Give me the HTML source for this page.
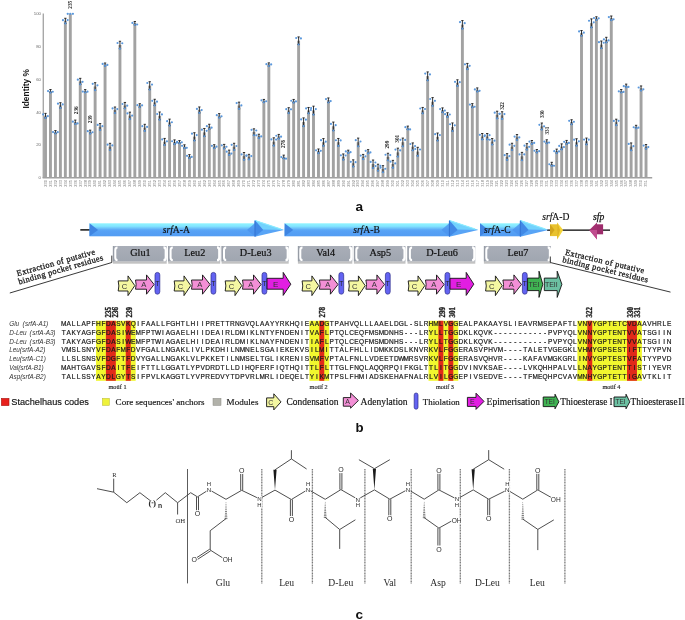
<!DOCTYPE html>
<html><head><meta charset="utf-8"><title>fig</title>
<style>html,body{margin:0;padding:0;background:#fff;overflow:hidden}svg{display:block;will-change:transform}</style>
</head><body>
<svg width="685" height="620" viewBox="0 0 685 620">
<defs><linearGradient id="gb" x1="0" y1="223.3" x2="0" y2="236.3" gradientUnits="userSpaceOnUse"><stop offset="0" stop-color="#90f4ff"/><stop offset="0.22" stop-color="#84e6ff"/><stop offset="0.5" stop-color="#5ca8f6"/><stop offset="0.6" stop-color="#56a1f5"/><stop offset="1" stop-color="#529cf3"/></linearGradient><linearGradient id="gbox" x1="0" y1="0" x2="0" y2="1"><stop offset="0" stop-color="#a9aeb8"/><stop offset="1" stop-color="#a0a6b0"/></linearGradient></defs>
<g id="chart">
<line x1="43.3" y1="13.6" x2="43.3" y2="178" stroke="#a8a8a8" stroke-width="1.4"/>
<line x1="42.6" y1="177.8" x2="652.2" y2="177.8" stroke="#a0a0a0" stroke-width="1.6"/>
<text transform="translate(41,15.25) scale(0.5)" font-family='"Liberation Sans", sans-serif' font-size="8.6" fill="#666" text-anchor="end">100</text>
<text transform="translate(41,48.05) scale(0.5)" font-family='"Liberation Sans", sans-serif' font-size="8.6" fill="#666" text-anchor="end">80</text>
<text transform="translate(41,80.85) scale(0.5)" font-family='"Liberation Sans", sans-serif' font-size="8.6" fill="#666" text-anchor="end">60</text>
<text transform="translate(41,113.65) scale(0.5)" font-family='"Liberation Sans", sans-serif' font-size="8.6" fill="#666" text-anchor="end">40</text>
<text transform="translate(41,146.45) scale(0.5)" font-family='"Liberation Sans", sans-serif' font-size="8.6" fill="#666" text-anchor="end">20</text>
<text transform="translate(41,179.25) scale(0.5)" font-family='"Liberation Sans", sans-serif' font-size="8.6" fill="#666" text-anchor="end">0</text>
<text transform="translate(28.9,88.8) rotate(-90)" font-family='"Liberation Sans", sans-serif' font-weight="bold" font-size="8.4" fill="#111" text-anchor="middle">Identity %</text>
<g fill="#a2a2a2"><rect x="44.05" y="115.64" width="2.9" height="62.16"/><rect x="49.01" y="91.04" width="2.9" height="86.76"/><rect x="53.98" y="132.04" width="2.9" height="45.76"/><rect x="58.94" y="105.31" width="2.9" height="72.49"/><rect x="63.90" y="20.85" width="2.9" height="156.95"/><rect x="68.86" y="13.80" width="2.9" height="164.00"/><rect x="73.83" y="122.04" width="2.9" height="55.76"/><rect x="78.79" y="81.37" width="2.9" height="96.43"/><rect x="83.75" y="91.04" width="2.9" height="86.76"/><rect x="88.72" y="131.88" width="2.9" height="45.92"/><rect x="93.68" y="86.45" width="2.9" height="91.35"/><rect x="98.64" y="126.80" width="2.9" height="51.00"/><rect x="103.61" y="64.48" width="2.9" height="113.32"/><rect x="108.57" y="146.64" width="2.9" height="31.16"/><rect x="113.53" y="110.07" width="2.9" height="67.73"/><rect x="118.50" y="44.96" width="2.9" height="132.84"/><rect x="123.46" y="105.48" width="2.9" height="72.32"/><rect x="128.42" y="115.64" width="2.9" height="62.16"/><rect x="133.38" y="23.15" width="2.9" height="154.65"/><rect x="138.35" y="105.48" width="2.9" height="72.32"/><rect x="143.31" y="127.62" width="2.9" height="50.18"/><rect x="148.27" y="85.63" width="2.9" height="92.17"/><rect x="153.24" y="102.36" width="2.9" height="75.44"/><rect x="158.20" y="115.81" width="2.9" height="61.99"/><rect x="163.16" y="141.72" width="2.9" height="36.08"/><rect x="168.12" y="122.37" width="2.9" height="55.43"/><rect x="173.09" y="142.05" width="2.9" height="35.75"/><rect x="178.05" y="141.88" width="2.9" height="35.92"/><rect x="183.01" y="146.48" width="2.9" height="31.32"/><rect x="187.98" y="156.32" width="2.9" height="21.48"/><rect x="192.94" y="136.64" width="2.9" height="41.16"/><rect x="197.90" y="109.90" width="2.9" height="67.90"/><rect x="202.87" y="132.37" width="2.9" height="45.43"/><rect x="207.83" y="126.63" width="2.9" height="51.17"/><rect x="212.79" y="146.48" width="2.9" height="31.32"/><rect x="217.76" y="115.64" width="2.9" height="62.16"/><rect x="222.72" y="146.48" width="2.9" height="31.32"/><rect x="227.68" y="152.54" width="2.9" height="25.26"/><rect x="232.64" y="146.64" width="2.9" height="31.16"/><rect x="237.61" y="105.48" width="2.9" height="72.32"/><rect x="242.57" y="156.15" width="2.9" height="21.65"/><rect x="247.53" y="156.81" width="2.9" height="20.99"/><rect x="252.50" y="132.04" width="2.9" height="45.76"/><rect x="257.46" y="136.14" width="2.9" height="41.66"/><rect x="262.42" y="100.88" width="2.9" height="76.92"/><rect x="267.39" y="64.48" width="2.9" height="113.32"/><rect x="272.35" y="141.72" width="2.9" height="36.08"/><rect x="277.31" y="136.47" width="2.9" height="41.33"/><rect x="282.27" y="156.81" width="2.9" height="20.99"/><rect x="287.24" y="110.40" width="2.9" height="67.40"/><rect x="292.20" y="101.05" width="2.9" height="76.75"/><rect x="297.16" y="40.70" width="2.9" height="137.10"/><rect x="302.13" y="122.04" width="2.9" height="55.76"/><rect x="307.09" y="110.40" width="2.9" height="67.40"/><rect x="312.05" y="110.40" width="2.9" height="67.40"/><rect x="317.02" y="151.07" width="2.9" height="26.73"/><rect x="321.98" y="142.21" width="2.9" height="35.59"/><rect x="326.94" y="100.23" width="2.9" height="77.57"/><rect x="331.90" y="126.30" width="2.9" height="51.50"/><rect x="336.87" y="142.21" width="2.9" height="35.59"/><rect x="341.83" y="156.81" width="2.9" height="20.99"/><rect x="346.79" y="151.56" width="2.9" height="26.24"/><rect x="351.76" y="163.20" width="2.9" height="14.60"/><rect x="356.72" y="142.21" width="2.9" height="35.59"/><rect x="361.68" y="156.81" width="2.9" height="20.99"/><rect x="366.65" y="151.56" width="2.9" height="26.24"/><rect x="371.61" y="164.02" width="2.9" height="13.78"/><rect x="376.57" y="167.47" width="2.9" height="10.33"/><rect x="381.53" y="168.94" width="2.9" height="8.86"/><rect x="386.50" y="156.81" width="2.9" height="20.99"/><rect x="391.46" y="164.02" width="2.9" height="13.78"/><rect x="396.42" y="152.38" width="2.9" height="25.42"/><rect x="401.39" y="142.21" width="2.9" height="35.59"/><rect x="406.35" y="127.78" width="2.9" height="50.02"/><rect x="411.31" y="146.64" width="2.9" height="31.16"/><rect x="416.28" y="151.56" width="2.9" height="26.24"/><rect x="421.24" y="110.40" width="2.9" height="67.40"/><rect x="426.20" y="76.12" width="2.9" height="101.68"/><rect x="431.16" y="101.70" width="2.9" height="76.10"/><rect x="436.13" y="136.80" width="2.9" height="41.00"/><rect x="441.09" y="110.07" width="2.9" height="67.73"/><rect x="446.05" y="114.82" width="2.9" height="62.98"/><rect x="451.02" y="126.96" width="2.9" height="50.84"/><rect x="455.98" y="82.84" width="2.9" height="94.96"/><rect x="460.94" y="24.62" width="2.9" height="153.18"/><rect x="465.91" y="66.28" width="2.9" height="111.52"/><rect x="470.87" y="105.48" width="2.9" height="72.32"/><rect x="475.83" y="89.73" width="2.9" height="88.07"/><rect x="480.79" y="136.47" width="2.9" height="41.33"/><rect x="485.76" y="136.47" width="2.9" height="41.33"/><rect x="490.72" y="141.56" width="2.9" height="36.24"/><rect x="495.68" y="114.82" width="2.9" height="62.98"/><rect x="500.65" y="115.32" width="2.9" height="62.48"/><rect x="505.61" y="156.81" width="2.9" height="20.99"/><rect x="510.57" y="146.64" width="2.9" height="31.16"/><rect x="515.53" y="137.29" width="2.9" height="40.51"/><rect x="520.50" y="156.32" width="2.9" height="21.48"/><rect x="525.46" y="146.64" width="2.9" height="31.16"/><rect x="530.42" y="142.21" width="2.9" height="35.59"/><rect x="535.39" y="151.07" width="2.9" height="26.73"/><rect x="540.35" y="126.30" width="2.9" height="51.50"/><rect x="545.31" y="141.56" width="2.9" height="36.24"/><rect x="550.28" y="164.02" width="2.9" height="13.78"/><rect x="555.24" y="151.07" width="2.9" height="26.73"/><rect x="560.20" y="146.64" width="2.9" height="31.16"/><rect x="565.16" y="142.21" width="2.9" height="35.59"/><rect x="570.13" y="122.04" width="2.9" height="55.76"/><rect x="575.09" y="142.21" width="2.9" height="35.59"/><rect x="580.05" y="33.15" width="2.9" height="144.65"/><rect x="585.02" y="141.23" width="2.9" height="36.57"/><rect x="589.98" y="23.15" width="2.9" height="154.65"/><rect x="594.94" y="18.39" width="2.9" height="159.41"/><rect x="599.91" y="44.63" width="2.9" height="133.17"/><rect x="604.87" y="39.88" width="2.9" height="137.92"/><rect x="609.83" y="18.06" width="2.9" height="159.74"/><rect x="614.79" y="122.20" width="2.9" height="55.60"/><rect x="619.76" y="91.04" width="2.9" height="86.76"/><rect x="624.72" y="85.63" width="2.9" height="92.17"/><rect x="629.68" y="146.64" width="2.9" height="31.16"/><rect x="634.65" y="126.80" width="2.9" height="51.00"/><rect x="639.61" y="88.26" width="2.9" height="89.54"/><rect x="644.57" y="146.64" width="2.9" height="31.16"/></g>
<path d="M45.50 113.37V117.92M44.35 113.37h2.3M44.35 117.92h2.3M50.46 89.53V92.56M49.31 89.53h2.3M49.31 92.56h2.3M55.43 130.57V133.52M54.28 130.57h2.3M54.28 133.52h2.3M60.39 102.71V107.91M59.24 102.71h2.3M59.24 107.91h2.3M65.35 18.28V23.43M64.20 18.28h2.3M64.20 23.43h2.3M75.28 120.07V124.01M74.13 120.07h2.3M74.13 124.01h2.3M80.24 78.34V84.40M79.09 78.34h2.3M79.09 84.40h2.3M85.20 89.60V92.48M84.05 89.60h2.3M84.05 92.48h2.3M90.17 130.15V133.61M89.02 130.15h2.3M89.02 133.61h2.3M95.13 82.70V90.20M93.98 82.70h2.3M93.98 90.20h2.3M100.09 123.58V130.01M98.94 123.58h2.3M98.94 130.01h2.3M105.06 62.99V65.96M103.91 62.99h2.3M103.91 65.96h2.3M110.02 143.30V149.98M108.87 143.30h2.3M108.87 149.98h2.3M114.98 107.01V113.12M113.83 107.01h2.3M113.83 113.12h2.3M119.95 41.28V48.64M118.80 41.28h2.3M118.80 48.64h2.3M124.91 102.45V108.50M123.76 102.45h2.3M123.76 108.50h2.3M129.87 112.16V119.13M128.72 112.16h2.3M128.72 119.13h2.3M134.83 21.49V24.80M133.68 21.49h2.3M133.68 24.80h2.3M139.80 103.72V107.23M138.65 103.72h2.3M138.65 107.23h2.3M144.76 124.31V130.92M143.61 124.31h2.3M143.61 130.92h2.3M149.72 81.71V89.56M148.57 81.71h2.3M148.57 89.56h2.3M154.69 99.28V105.44M153.54 99.28h2.3M153.54 105.44h2.3M159.65 111.99V119.63M158.50 111.99h2.3M158.50 119.63h2.3M164.61 138.43V145.01M163.46 138.43h2.3M163.46 145.01h2.3M169.57 119.13V125.61M168.42 119.13h2.3M168.42 125.61h2.3M174.54 139.89V144.20M173.39 139.89h2.3M173.39 144.20h2.3M179.50 140.52V143.25M178.35 140.52h2.3M178.35 143.25h2.3M184.46 144.82V148.13M183.31 144.82h2.3M183.31 148.13h2.3M189.43 154.63V158.00M188.28 154.63h2.3M188.28 158.00h2.3M194.39 132.72V140.55M193.24 132.72h2.3M193.24 140.55h2.3M199.35 106.96V112.85M198.20 106.96h2.3M198.20 112.85h2.3M204.32 128.48V136.26M203.17 128.48h2.3M203.17 136.26h2.3M209.28 124.26V129.01M208.13 124.26h2.3M208.13 129.01h2.3M214.24 144.72V148.23M213.09 144.72h2.3M213.09 148.23h2.3M219.21 113.64V117.64M218.06 113.64h2.3M218.06 117.64h2.3M224.17 144.39V148.56M223.02 144.39h2.3M223.02 148.56h2.3M229.13 150.14V154.95M227.98 150.14h2.3M227.98 154.95h2.3M234.09 143.27V150.01M232.94 143.27h2.3M232.94 150.01h2.3M239.06 102.15V108.80M237.91 102.15h2.3M237.91 108.80h2.3M244.02 152.51V159.79M242.87 152.51h2.3M242.87 159.79h2.3M248.98 154.33V159.29M247.83 154.33h2.3M247.83 159.29h2.3M253.95 128.84V135.25M252.80 128.84h2.3M252.80 135.25h2.3M258.91 134.22V138.07M257.76 134.22h2.3M257.76 138.07h2.3M263.87 99.43V102.34M262.72 99.43h2.3M262.72 102.34h2.3M268.84 62.87V66.08M267.69 62.87h2.3M267.69 66.08h2.3M273.80 137.80V145.64M272.65 137.80h2.3M272.65 145.64h2.3M278.76 134.42V138.53M277.61 134.42h2.3M277.61 138.53h2.3M283.72 155.14V158.48M282.57 155.14h2.3M282.57 158.48h2.3M288.69 107.70V113.09M287.54 107.70h2.3M287.54 113.09h2.3M293.65 99.44V102.65M292.50 99.44h2.3M292.50 102.65h2.3M298.61 36.91V44.48M297.46 36.91h2.3M297.46 44.48h2.3M303.58 117.89V126.19M302.43 117.89h2.3M302.43 126.19h2.3M308.54 107.47V113.33M307.39 107.47h2.3M307.39 113.33h2.3M313.50 106.16V114.63M312.35 106.16h2.3M312.35 114.63h2.3M318.47 148.98V153.15M317.32 148.98h2.3M317.32 153.15h2.3M323.43 138.60V145.83M322.28 138.60h2.3M322.28 145.83h2.3M328.39 97.94V102.52M327.24 97.94h2.3M327.24 102.52h2.3M333.35 122.05V130.56M332.20 122.05h2.3M332.20 130.56h2.3M338.32 138.46V145.97M337.17 138.46h2.3M337.17 145.97h2.3M343.28 153.96V159.66M342.13 153.96h2.3M342.13 159.66h2.3M348.24 150.18V152.94M347.09 150.18h2.3M347.09 152.94h2.3M353.21 159.83V166.58M352.06 159.83h2.3M352.06 166.58h2.3M358.17 138.10V146.32M357.02 138.10h2.3M357.02 146.32h2.3M363.13 154.41V159.20M361.98 154.41h2.3M361.98 159.20h2.3M368.10 149.67V153.45M366.95 149.67h2.3M366.95 153.45h2.3M373.06 160.02V168.02M371.91 160.02h2.3M371.91 168.02h2.3M378.02 164.21V170.73M376.87 164.21h2.3M376.87 170.73h2.3M382.98 165.66V172.23M381.83 165.66h2.3M381.83 172.23h2.3M387.95 153.26V160.36M386.80 153.26h2.3M386.80 160.36h2.3M392.91 160.36V167.69M391.76 160.36h2.3M391.76 167.69h2.3M397.87 148.17V156.59M396.72 148.17h2.3M396.72 156.59h2.3M402.84 138.07V146.35M401.69 138.07h2.3M401.69 146.35h2.3M407.80 126.10V129.46M406.65 126.10h2.3M406.65 129.46h2.3M412.76 142.92V150.36M411.61 142.92h2.3M411.61 150.36h2.3M417.73 147.32V155.80M416.58 147.32h2.3M416.58 155.80h2.3M422.69 107.45V113.34M421.54 107.45h2.3M421.54 113.34h2.3M427.65 71.91V80.33M426.50 71.91h2.3M426.50 80.33h2.3M432.61 97.60V105.80M431.46 97.60h2.3M431.46 105.80h2.3M437.58 133.02V140.58M436.43 133.02h2.3M436.43 140.58h2.3M442.54 107.89V112.25M441.39 107.89h2.3M441.39 112.25h2.3M447.50 112.75V116.90M446.35 112.75h2.3M446.35 116.90h2.3M452.47 122.93V130.99M451.32 122.93h2.3M451.32 130.99h2.3M457.43 79.79V85.89M456.28 79.79h2.3M456.28 85.89h2.3M462.39 20.57V28.68M461.24 20.57h2.3M461.24 28.68h2.3M467.36 63.41V69.15M466.21 63.41h2.3M466.21 69.15h2.3M472.32 103.63V107.33M471.17 103.63h2.3M471.17 107.33h2.3M477.28 87.91V91.55M476.13 87.91h2.3M476.13 91.55h2.3M482.24 133.50V139.44M481.09 133.50h2.3M481.09 139.44h2.3M487.21 133.51V139.44M486.06 133.51h2.3M486.06 139.44h2.3M492.17 138.58V144.54M491.02 138.58h2.3M491.02 144.54h2.3M497.13 111.21V118.44M495.98 111.21h2.3M495.98 118.44h2.3M502.10 111.74V118.90M500.95 111.74h2.3M500.95 118.90h2.3M507.06 153.67V159.95M505.91 153.67h2.3M505.91 159.95h2.3M512.02 143.26V150.02M510.87 143.26h2.3M510.87 150.02h2.3M516.99 134.56V140.03M515.84 134.56h2.3M515.84 140.03h2.3M521.95 152.39V160.25M520.80 152.39h2.3M520.80 160.25h2.3M526.91 143.66V149.62M525.76 143.66h2.3M525.76 149.62h2.3M531.87 140.50V143.92M530.72 140.50h2.3M530.72 143.92h2.3M536.84 149.55V152.59M535.69 149.55h2.3M535.69 152.59h2.3M541.80 123.00V129.61M540.65 123.00h2.3M540.65 129.61h2.3M546.76 139.79V143.32M545.61 139.79h2.3M545.61 143.32h2.3M551.73 162.30V165.75M550.58 162.30h2.3M550.58 165.75h2.3M556.69 149.11V153.03M555.54 149.11h2.3M555.54 153.03h2.3M561.65 143.88V149.40M560.50 143.88h2.3M560.50 149.40h2.3M566.62 140.43V144.00M565.47 140.43h2.3M565.47 144.00h2.3M571.58 119.72V124.36M570.43 119.72h2.3M570.43 124.36h2.3M576.54 138.75V145.68M575.39 138.75h2.3M575.39 145.68h2.3M581.50 30.53V35.77M580.35 30.53h2.3M580.35 35.77h2.3M586.47 138.06V144.40M585.32 138.06h2.3M585.32 144.40h2.3M591.43 18.89V27.40M590.28 18.89h2.3M590.28 27.40h2.3M596.39 16.78V20.01M595.24 16.78h2.3M595.24 20.01h2.3M601.36 41.00V48.27M600.21 41.00h2.3M600.21 48.27h2.3M606.32 37.31V42.44M605.17 37.31h2.3M605.17 42.44h2.3M611.28 15.99V20.14M610.13 15.99h2.3M610.13 20.14h2.3M616.25 119.19V125.22M615.10 119.19h2.3M615.10 125.22h2.3M621.21 89.57V92.52M620.06 89.57h2.3M620.06 92.52h2.3M626.17 84.11V87.15M625.02 84.11h2.3M625.02 87.15h2.3M631.13 142.94V150.34M629.98 142.94h2.3M629.98 150.34h2.3M636.10 125.30V128.30M634.95 125.30h2.3M634.95 128.30h2.3M641.06 85.94V90.57M639.91 85.94h2.3M639.91 90.57h2.3M646.02 144.54V148.74M644.87 144.54h2.3M644.87 148.74h2.3" stroke="#111" stroke-width="0.85" fill="none"/>
<g fill="#5b98dc"><circle cx="43.10" cy="114.45" r="1.1"/><circle cx="47.80" cy="116.17" r="1.1"/><circle cx="45.50" cy="117.92" r="1.1"/><circle cx="48.06" cy="91.07" r="1.1"/><circle cx="52.76" cy="91.76" r="1.1"/><circle cx="50.46" cy="92.56" r="1.1"/><circle cx="53.03" cy="132.08" r="1.1"/><circle cx="57.73" cy="132.14" r="1.1"/><circle cx="55.43" cy="133.52" r="1.1"/><circle cx="57.99" cy="103.69" r="1.1"/><circle cx="62.69" cy="104.39" r="1.1"/><circle cx="60.39" cy="107.91" r="1.1"/><circle cx="62.95" cy="20.17" r="1.1"/><circle cx="67.65" cy="20.03" r="1.1"/><circle cx="65.35" cy="23.43" r="1.1"/><circle cx="67.72" cy="13.80" r="1.1"/><circle cx="70.31" cy="13.80" r="1.1"/><circle cx="72.91" cy="13.80" r="1.1"/><circle cx="72.88" cy="121.72" r="1.1"/><circle cx="77.58" cy="123.47" r="1.1"/><circle cx="75.28" cy="124.01" r="1.1"/><circle cx="77.84" cy="79.71" r="1.1"/><circle cx="82.54" cy="81.79" r="1.1"/><circle cx="80.24" cy="84.40" r="1.1"/><circle cx="82.80" cy="91.53" r="1.1"/><circle cx="87.50" cy="91.68" r="1.1"/><circle cx="85.20" cy="92.48" r="1.1"/><circle cx="87.77" cy="131.19" r="1.1"/><circle cx="92.47" cy="132.26" r="1.1"/><circle cx="90.17" cy="133.61" r="1.1"/><circle cx="92.73" cy="83.82" r="1.1"/><circle cx="97.43" cy="85.37" r="1.1"/><circle cx="95.13" cy="90.20" r="1.1"/><circle cx="97.69" cy="124.93" r="1.1"/><circle cx="102.39" cy="126.17" r="1.1"/><circle cx="100.09" cy="130.01" r="1.1"/><circle cx="102.66" cy="63.96" r="1.1"/><circle cx="107.36" cy="64.90" r="1.1"/><circle cx="105.06" cy="65.96" r="1.1"/><circle cx="107.62" cy="144.71" r="1.1"/><circle cx="112.32" cy="145.43" r="1.1"/><circle cx="110.02" cy="149.98" r="1.1"/><circle cx="112.58" cy="108.46" r="1.1"/><circle cx="117.28" cy="109.11" r="1.1"/><circle cx="114.98" cy="113.12" r="1.1"/><circle cx="117.55" cy="43.02" r="1.1"/><circle cx="122.25" cy="43.27" r="1.1"/><circle cx="119.95" cy="48.64" r="1.1"/><circle cx="122.51" cy="103.98" r="1.1"/><circle cx="127.21" cy="105.70" r="1.1"/><circle cx="124.91" cy="108.50" r="1.1"/><circle cx="127.47" cy="113.40" r="1.1"/><circle cx="132.17" cy="115.62" r="1.1"/><circle cx="129.87" cy="119.13" r="1.1"/><circle cx="132.43" cy="22.90" r="1.1"/><circle cx="137.13" cy="24.51" r="1.1"/><circle cx="134.83" cy="24.80" r="1.1"/><circle cx="137.40" cy="105.21" r="1.1"/><circle cx="142.10" cy="105.30" r="1.1"/><circle cx="139.80" cy="107.23" r="1.1"/><circle cx="142.36" cy="126.13" r="1.1"/><circle cx="147.06" cy="126.96" r="1.1"/><circle cx="144.76" cy="130.92" r="1.1"/><circle cx="147.32" cy="82.98" r="1.1"/><circle cx="152.02" cy="84.60" r="1.1"/><circle cx="149.72" cy="89.56" r="1.1"/><circle cx="152.29" cy="100.87" r="1.1"/><circle cx="156.99" cy="101.69" r="1.1"/><circle cx="154.69" cy="105.44" r="1.1"/><circle cx="157.25" cy="114.02" r="1.1"/><circle cx="161.95" cy="114.44" r="1.1"/><circle cx="159.65" cy="119.63" r="1.1"/><circle cx="162.21" cy="139.40" r="1.1"/><circle cx="166.91" cy="141.33" r="1.1"/><circle cx="164.61" cy="145.01" r="1.1"/><circle cx="167.17" cy="121.22" r="1.1"/><circle cx="171.88" cy="122.27" r="1.1"/><circle cx="169.57" cy="125.61" r="1.1"/><circle cx="172.14" cy="141.26" r="1.1"/><circle cx="176.84" cy="142.73" r="1.1"/><circle cx="174.54" cy="144.20" r="1.1"/><circle cx="177.10" cy="141.97" r="1.1"/><circle cx="181.80" cy="142.35" r="1.1"/><circle cx="179.50" cy="143.25" r="1.1"/><circle cx="182.06" cy="145.80" r="1.1"/><circle cx="186.76" cy="147.86" r="1.1"/><circle cx="184.46" cy="148.13" r="1.1"/><circle cx="187.03" cy="155.83" r="1.1"/><circle cx="191.73" cy="156.91" r="1.1"/><circle cx="189.43" cy="158.00" r="1.1"/><circle cx="191.99" cy="133.72" r="1.1"/><circle cx="196.69" cy="135.12" r="1.1"/><circle cx="194.39" cy="140.55" r="1.1"/><circle cx="196.95" cy="108.92" r="1.1"/><circle cx="201.65" cy="110.09" r="1.1"/><circle cx="199.35" cy="112.85" r="1.1"/><circle cx="201.92" cy="129.71" r="1.1"/><circle cx="206.62" cy="130.81" r="1.1"/><circle cx="204.32" cy="136.26" r="1.1"/><circle cx="206.88" cy="126.22" r="1.1"/><circle cx="211.58" cy="127.67" r="1.1"/><circle cx="209.28" cy="129.01" r="1.1"/><circle cx="211.84" cy="145.83" r="1.1"/><circle cx="216.54" cy="146.69" r="1.1"/><circle cx="214.24" cy="148.23" r="1.1"/><circle cx="216.81" cy="115.13" r="1.1"/><circle cx="221.51" cy="116.32" r="1.1"/><circle cx="219.21" cy="117.64" r="1.1"/><circle cx="221.77" cy="145.29" r="1.1"/><circle cx="226.47" cy="146.73" r="1.1"/><circle cx="224.17" cy="148.56" r="1.1"/><circle cx="226.73" cy="151.72" r="1.1"/><circle cx="231.43" cy="153.54" r="1.1"/><circle cx="229.13" cy="154.95" r="1.1"/><circle cx="231.69" cy="144.79" r="1.1"/><circle cx="236.39" cy="146.00" r="1.1"/><circle cx="234.09" cy="150.01" r="1.1"/><circle cx="236.66" cy="103.11" r="1.1"/><circle cx="241.36" cy="105.45" r="1.1"/><circle cx="239.06" cy="108.80" r="1.1"/><circle cx="241.62" cy="154.46" r="1.1"/><circle cx="246.32" cy="155.61" r="1.1"/><circle cx="244.02" cy="159.79" r="1.1"/><circle cx="246.58" cy="155.71" r="1.1"/><circle cx="251.28" cy="156.04" r="1.1"/><circle cx="248.98" cy="159.29" r="1.1"/><circle cx="251.55" cy="129.82" r="1.1"/><circle cx="256.25" cy="130.48" r="1.1"/><circle cx="253.95" cy="135.25" r="1.1"/><circle cx="256.51" cy="135.31" r="1.1"/><circle cx="261.21" cy="136.40" r="1.1"/><circle cx="258.91" cy="138.07" r="1.1"/><circle cx="261.47" cy="100.33" r="1.1"/><circle cx="266.17" cy="101.23" r="1.1"/><circle cx="263.87" cy="102.34" r="1.1"/><circle cx="266.44" cy="64.21" r="1.1"/><circle cx="271.14" cy="64.42" r="1.1"/><circle cx="268.84" cy="66.08" r="1.1"/><circle cx="271.40" cy="139.43" r="1.1"/><circle cx="276.10" cy="139.59" r="1.1"/><circle cx="273.80" cy="145.64" r="1.1"/><circle cx="276.36" cy="135.73" r="1.1"/><circle cx="281.06" cy="136.64" r="1.1"/><circle cx="278.76" cy="138.53" r="1.1"/><circle cx="281.32" cy="157.06" r="1.1"/><circle cx="286.02" cy="158.63" r="1.1"/><circle cx="283.72" cy="158.48" r="1.1"/><circle cx="286.29" cy="109.18" r="1.1"/><circle cx="290.99" cy="109.37" r="1.1"/><circle cx="288.69" cy="113.09" r="1.1"/><circle cx="291.25" cy="100.75" r="1.1"/><circle cx="295.95" cy="101.47" r="1.1"/><circle cx="293.65" cy="102.65" r="1.1"/><circle cx="296.21" cy="38.00" r="1.1"/><circle cx="300.91" cy="38.46" r="1.1"/><circle cx="298.61" cy="44.48" r="1.1"/><circle cx="301.18" cy="119.42" r="1.1"/><circle cx="305.88" cy="119.68" r="1.1"/><circle cx="303.58" cy="126.19" r="1.1"/><circle cx="306.14" cy="108.40" r="1.1"/><circle cx="310.84" cy="110.02" r="1.1"/><circle cx="308.54" cy="113.33" r="1.1"/><circle cx="311.10" cy="108.10" r="1.1"/><circle cx="315.80" cy="109.05" r="1.1"/><circle cx="313.50" cy="114.63" r="1.1"/><circle cx="316.07" cy="150.32" r="1.1"/><circle cx="320.77" cy="150.82" r="1.1"/><circle cx="318.47" cy="153.15" r="1.1"/><circle cx="321.03" cy="140.14" r="1.1"/><circle cx="325.73" cy="141.65" r="1.1"/><circle cx="323.43" cy="145.83" r="1.1"/><circle cx="325.99" cy="99.11" r="1.1"/><circle cx="330.69" cy="101.06" r="1.1"/><circle cx="328.39" cy="102.52" r="1.1"/><circle cx="330.95" cy="123.97" r="1.1"/><circle cx="335.65" cy="125.16" r="1.1"/><circle cx="333.35" cy="130.56" r="1.1"/><circle cx="335.92" cy="140.24" r="1.1"/><circle cx="340.62" cy="140.41" r="1.1"/><circle cx="338.32" cy="145.97" r="1.1"/><circle cx="340.88" cy="155.28" r="1.1"/><circle cx="345.58" cy="155.51" r="1.1"/><circle cx="343.28" cy="159.66" r="1.1"/><circle cx="345.84" cy="151.41" r="1.1"/><circle cx="350.54" cy="152.19" r="1.1"/><circle cx="348.24" cy="152.94" r="1.1"/><circle cx="350.81" cy="161.87" r="1.1"/><circle cx="355.51" cy="162.22" r="1.1"/><circle cx="353.21" cy="166.58" r="1.1"/><circle cx="355.77" cy="140.19" r="1.1"/><circle cx="360.47" cy="141.51" r="1.1"/><circle cx="358.17" cy="146.32" r="1.1"/><circle cx="360.73" cy="155.58" r="1.1"/><circle cx="365.43" cy="156.37" r="1.1"/><circle cx="363.13" cy="159.20" r="1.1"/><circle cx="365.70" cy="150.82" r="1.1"/><circle cx="370.40" cy="152.42" r="1.1"/><circle cx="368.10" cy="153.45" r="1.1"/><circle cx="370.66" cy="161.93" r="1.1"/><circle cx="375.36" cy="162.48" r="1.1"/><circle cx="373.06" cy="168.02" r="1.1"/><circle cx="375.62" cy="166.07" r="1.1"/><circle cx="380.32" cy="165.88" r="1.1"/><circle cx="378.02" cy="170.73" r="1.1"/><circle cx="380.58" cy="167.65" r="1.1"/><circle cx="385.28" cy="168.73" r="1.1"/><circle cx="382.98" cy="172.23" r="1.1"/><circle cx="385.55" cy="154.73" r="1.1"/><circle cx="390.25" cy="155.11" r="1.1"/><circle cx="387.95" cy="160.36" r="1.1"/><circle cx="390.51" cy="161.66" r="1.1"/><circle cx="395.21" cy="163.46" r="1.1"/><circle cx="392.91" cy="167.69" r="1.1"/><circle cx="395.47" cy="149.54" r="1.1"/><circle cx="400.17" cy="150.47" r="1.1"/><circle cx="397.87" cy="156.59" r="1.1"/><circle cx="400.44" cy="139.84" r="1.1"/><circle cx="405.14" cy="139.91" r="1.1"/><circle cx="402.84" cy="146.35" r="1.1"/><circle cx="405.40" cy="127.18" r="1.1"/><circle cx="410.10" cy="129.41" r="1.1"/><circle cx="407.80" cy="129.46" r="1.1"/><circle cx="410.36" cy="144.00" r="1.1"/><circle cx="415.06" cy="146.07" r="1.1"/><circle cx="412.76" cy="150.36" r="1.1"/><circle cx="415.33" cy="149.01" r="1.1"/><circle cx="420.03" cy="149.52" r="1.1"/><circle cx="417.73" cy="155.80" r="1.1"/><circle cx="420.29" cy="108.51" r="1.1"/><circle cx="424.99" cy="108.98" r="1.1"/><circle cx="422.69" cy="113.34" r="1.1"/><circle cx="425.25" cy="73.59" r="1.1"/><circle cx="429.95" cy="74.46" r="1.1"/><circle cx="427.65" cy="80.33" r="1.1"/><circle cx="430.21" cy="99.02" r="1.1"/><circle cx="434.91" cy="100.85" r="1.1"/><circle cx="432.61" cy="105.80" r="1.1"/><circle cx="435.18" cy="134.17" r="1.1"/><circle cx="439.88" cy="135.03" r="1.1"/><circle cx="437.58" cy="140.58" r="1.1"/><circle cx="440.14" cy="109.08" r="1.1"/><circle cx="444.84" cy="110.56" r="1.1"/><circle cx="442.54" cy="112.25" r="1.1"/><circle cx="445.10" cy="114.15" r="1.1"/><circle cx="449.80" cy="114.51" r="1.1"/><circle cx="447.50" cy="116.90" r="1.1"/><circle cx="450.07" cy="124.25" r="1.1"/><circle cx="454.77" cy="125.35" r="1.1"/><circle cx="452.47" cy="130.99" r="1.1"/><circle cx="455.03" cy="81.78" r="1.1"/><circle cx="459.73" cy="82.14" r="1.1"/><circle cx="457.43" cy="85.89" r="1.1"/><circle cx="459.99" cy="22.07" r="1.1"/><circle cx="464.69" cy="23.13" r="1.1"/><circle cx="462.39" cy="28.68" r="1.1"/><circle cx="464.96" cy="64.33" r="1.1"/><circle cx="469.66" cy="65.79" r="1.1"/><circle cx="467.36" cy="69.15" r="1.1"/><circle cx="469.92" cy="104.53" r="1.1"/><circle cx="474.62" cy="106.73" r="1.1"/><circle cx="472.32" cy="107.33" r="1.1"/><circle cx="474.88" cy="89.38" r="1.1"/><circle cx="479.58" cy="90.87" r="1.1"/><circle cx="477.28" cy="91.55" r="1.1"/><circle cx="479.84" cy="134.79" r="1.1"/><circle cx="484.54" cy="136.04" r="1.1"/><circle cx="482.24" cy="139.44" r="1.1"/><circle cx="484.81" cy="135.35" r="1.1"/><circle cx="489.51" cy="135.22" r="1.1"/><circle cx="487.21" cy="139.44" r="1.1"/><circle cx="489.77" cy="139.77" r="1.1"/><circle cx="494.47" cy="140.63" r="1.1"/><circle cx="492.17" cy="144.54" r="1.1"/><circle cx="494.73" cy="112.72" r="1.1"/><circle cx="499.43" cy="113.83" r="1.1"/><circle cx="497.13" cy="118.44" r="1.1"/><circle cx="499.70" cy="113.73" r="1.1"/><circle cx="504.40" cy="114.12" r="1.1"/><circle cx="502.10" cy="118.90" r="1.1"/><circle cx="504.66" cy="155.18" r="1.1"/><circle cx="509.36" cy="156.19" r="1.1"/><circle cx="507.06" cy="159.95" r="1.1"/><circle cx="509.62" cy="144.70" r="1.1"/><circle cx="514.32" cy="145.83" r="1.1"/><circle cx="512.02" cy="150.02" r="1.1"/><circle cx="514.59" cy="136.59" r="1.1"/><circle cx="519.28" cy="137.46" r="1.1"/><circle cx="516.99" cy="140.03" r="1.1"/><circle cx="519.55" cy="154.42" r="1.1"/><circle cx="524.25" cy="154.41" r="1.1"/><circle cx="521.95" cy="160.25" r="1.1"/><circle cx="524.51" cy="145.69" r="1.1"/><circle cx="529.21" cy="146.84" r="1.1"/><circle cx="526.91" cy="149.62" r="1.1"/><circle cx="529.47" cy="141.55" r="1.1"/><circle cx="534.17" cy="142.88" r="1.1"/><circle cx="531.87" cy="143.92" r="1.1"/><circle cx="534.44" cy="150.74" r="1.1"/><circle cx="539.14" cy="151.20" r="1.1"/><circle cx="536.84" cy="152.59" r="1.1"/><circle cx="539.40" cy="124.84" r="1.1"/><circle cx="544.10" cy="126.29" r="1.1"/><circle cx="541.80" cy="129.61" r="1.1"/><circle cx="544.36" cy="141.55" r="1.1"/><circle cx="549.06" cy="142.61" r="1.1"/><circle cx="546.76" cy="143.32" r="1.1"/><circle cx="549.33" cy="164.25" r="1.1"/><circle cx="554.03" cy="165.73" r="1.1"/><circle cx="551.73" cy="165.75" r="1.1"/><circle cx="554.29" cy="151.15" r="1.1"/><circle cx="558.99" cy="151.41" r="1.1"/><circle cx="556.69" cy="153.03" r="1.1"/><circle cx="559.25" cy="145.97" r="1.1"/><circle cx="563.95" cy="147.04" r="1.1"/><circle cx="561.65" cy="149.40" r="1.1"/><circle cx="564.22" cy="141.85" r="1.1"/><circle cx="568.91" cy="142.96" r="1.1"/><circle cx="566.62" cy="144.00" r="1.1"/><circle cx="569.18" cy="120.86" r="1.1"/><circle cx="573.88" cy="121.86" r="1.1"/><circle cx="571.58" cy="124.36" r="1.1"/><circle cx="574.14" cy="139.67" r="1.1"/><circle cx="578.84" cy="141.35" r="1.1"/><circle cx="576.54" cy="145.68" r="1.1"/><circle cx="579.10" cy="31.45" r="1.1"/><circle cx="583.80" cy="32.69" r="1.1"/><circle cx="581.50" cy="35.77" r="1.1"/><circle cx="584.07" cy="139.57" r="1.1"/><circle cx="588.77" cy="139.68" r="1.1"/><circle cx="586.47" cy="144.40" r="1.1"/><circle cx="589.03" cy="20.74" r="1.1"/><circle cx="593.73" cy="22.34" r="1.1"/><circle cx="591.43" cy="27.40" r="1.1"/><circle cx="593.99" cy="18.00" r="1.1"/><circle cx="598.69" cy="18.36" r="1.1"/><circle cx="596.39" cy="20.01" r="1.1"/><circle cx="598.96" cy="42.22" r="1.1"/><circle cx="603.66" cy="42.75" r="1.1"/><circle cx="601.36" cy="48.27" r="1.1"/><circle cx="603.92" cy="39.30" r="1.1"/><circle cx="608.62" cy="40.45" r="1.1"/><circle cx="606.32" cy="42.44" r="1.1"/><circle cx="608.88" cy="17.07" r="1.1"/><circle cx="613.58" cy="19.33" r="1.1"/><circle cx="611.28" cy="20.14" r="1.1"/><circle cx="613.85" cy="120.93" r="1.1"/><circle cx="618.54" cy="120.87" r="1.1"/><circle cx="616.25" cy="125.22" r="1.1"/><circle cx="618.81" cy="91.30" r="1.1"/><circle cx="623.51" cy="91.92" r="1.1"/><circle cx="621.21" cy="92.52" r="1.1"/><circle cx="623.77" cy="86.14" r="1.1"/><circle cx="628.47" cy="86.88" r="1.1"/><circle cx="626.17" cy="87.15" r="1.1"/><circle cx="628.73" cy="143.94" r="1.1"/><circle cx="633.43" cy="146.15" r="1.1"/><circle cx="631.13" cy="150.34" r="1.1"/><circle cx="633.70" cy="127.23" r="1.1"/><circle cx="638.40" cy="127.70" r="1.1"/><circle cx="636.10" cy="128.30" r="1.1"/><circle cx="638.66" cy="87.50" r="1.1"/><circle cx="643.36" cy="89.29" r="1.1"/><circle cx="641.06" cy="90.57" r="1.1"/><circle cx="643.62" cy="145.59" r="1.1"/><circle cx="648.32" cy="147.09" r="1.1"/><circle cx="646.02" cy="148.74" r="1.1"/></g>
<g font-family='"Liberation Sans", sans-serif' font-size="8" fill="#7a7a7a"><text transform="translate(46.80,180.1) rotate(-90) scale(0.5)" text-anchor="end">230</text><text transform="translate(51.76,180.1) rotate(-90) scale(0.5)" text-anchor="end">231</text><text transform="translate(56.73,180.1) rotate(-90) scale(0.5)" text-anchor="end">232</text><text transform="translate(61.69,180.1) rotate(-90) scale(0.5)" text-anchor="end">233</text><text transform="translate(66.65,180.1) rotate(-90) scale(0.5)" text-anchor="end">234</text><text transform="translate(71.61,180.1) rotate(-90) scale(0.5)" text-anchor="end">235</text><text transform="translate(76.58,180.1) rotate(-90) scale(0.5)" text-anchor="end">236</text><text transform="translate(81.54,180.1) rotate(-90) scale(0.5)" text-anchor="end">237</text><text transform="translate(86.50,180.1) rotate(-90) scale(0.5)" text-anchor="end">238</text><text transform="translate(91.47,180.1) rotate(-90) scale(0.5)" text-anchor="end">239</text><text transform="translate(96.43,180.1) rotate(-90) scale(0.5)" text-anchor="end">240</text><text transform="translate(101.39,180.1) rotate(-90) scale(0.5)" text-anchor="end">241</text><text transform="translate(106.36,180.1) rotate(-90) scale(0.5)" text-anchor="end">242</text><text transform="translate(111.32,180.1) rotate(-90) scale(0.5)" text-anchor="end">243</text><text transform="translate(116.28,180.1) rotate(-90) scale(0.5)" text-anchor="end">244</text><text transform="translate(121.25,180.1) rotate(-90) scale(0.5)" text-anchor="end">245</text><text transform="translate(126.21,180.1) rotate(-90) scale(0.5)" text-anchor="end">246</text><text transform="translate(131.17,180.1) rotate(-90) scale(0.5)" text-anchor="end">247</text><text transform="translate(136.13,180.1) rotate(-90) scale(0.5)" text-anchor="end">248</text><text transform="translate(141.10,180.1) rotate(-90) scale(0.5)" text-anchor="end">249</text><text transform="translate(146.06,180.1) rotate(-90) scale(0.5)" text-anchor="end">250</text><text transform="translate(151.02,180.1) rotate(-90) scale(0.5)" text-anchor="end">251</text><text transform="translate(155.99,180.1) rotate(-90) scale(0.5)" text-anchor="end">252</text><text transform="translate(160.95,180.1) rotate(-90) scale(0.5)" text-anchor="end">253</text><text transform="translate(165.91,180.1) rotate(-90) scale(0.5)" text-anchor="end">254</text><text transform="translate(170.88,180.1) rotate(-90) scale(0.5)" text-anchor="end">255</text><text transform="translate(175.84,180.1) rotate(-90) scale(0.5)" text-anchor="end">256</text><text transform="translate(180.80,180.1) rotate(-90) scale(0.5)" text-anchor="end">257</text><text transform="translate(185.76,180.1) rotate(-90) scale(0.5)" text-anchor="end">258</text><text transform="translate(190.73,180.1) rotate(-90) scale(0.5)" text-anchor="end">259</text><text transform="translate(195.69,180.1) rotate(-90) scale(0.5)" text-anchor="end">260</text><text transform="translate(200.65,180.1) rotate(-90) scale(0.5)" text-anchor="end">261</text><text transform="translate(205.62,180.1) rotate(-90) scale(0.5)" text-anchor="end">262</text><text transform="translate(210.58,180.1) rotate(-90) scale(0.5)" text-anchor="end">263</text><text transform="translate(215.54,180.1) rotate(-90) scale(0.5)" text-anchor="end">264</text><text transform="translate(220.51,180.1) rotate(-90) scale(0.5)" text-anchor="end">265</text><text transform="translate(225.47,180.1) rotate(-90) scale(0.5)" text-anchor="end">266</text><text transform="translate(230.43,180.1) rotate(-90) scale(0.5)" text-anchor="end">267</text><text transform="translate(235.39,180.1) rotate(-90) scale(0.5)" text-anchor="end">268</text><text transform="translate(240.36,180.1) rotate(-90) scale(0.5)" text-anchor="end">269</text><text transform="translate(245.32,180.1) rotate(-90) scale(0.5)" text-anchor="end">270</text><text transform="translate(250.28,180.1) rotate(-90) scale(0.5)" text-anchor="end">271</text><text transform="translate(255.25,180.1) rotate(-90) scale(0.5)" text-anchor="end">272</text><text transform="translate(260.21,180.1) rotate(-90) scale(0.5)" text-anchor="end">273</text><text transform="translate(265.17,180.1) rotate(-90) scale(0.5)" text-anchor="end">274</text><text transform="translate(270.14,180.1) rotate(-90) scale(0.5)" text-anchor="end">275</text><text transform="translate(275.10,180.1) rotate(-90) scale(0.5)" text-anchor="end">276</text><text transform="translate(280.06,180.1) rotate(-90) scale(0.5)" text-anchor="end">277</text><text transform="translate(285.02,180.1) rotate(-90) scale(0.5)" text-anchor="end">278</text><text transform="translate(289.99,180.1) rotate(-90) scale(0.5)" text-anchor="end">279</text><text transform="translate(294.95,180.1) rotate(-90) scale(0.5)" text-anchor="end">280</text><text transform="translate(299.91,180.1) rotate(-90) scale(0.5)" text-anchor="end">281</text><text transform="translate(304.88,180.1) rotate(-90) scale(0.5)" text-anchor="end">282</text><text transform="translate(309.84,180.1) rotate(-90) scale(0.5)" text-anchor="end">283</text><text transform="translate(314.80,180.1) rotate(-90) scale(0.5)" text-anchor="end">284</text><text transform="translate(319.77,180.1) rotate(-90) scale(0.5)" text-anchor="end">285</text><text transform="translate(324.73,180.1) rotate(-90) scale(0.5)" text-anchor="end">286</text><text transform="translate(329.69,180.1) rotate(-90) scale(0.5)" text-anchor="end">287</text><text transform="translate(334.65,180.1) rotate(-90) scale(0.5)" text-anchor="end">288</text><text transform="translate(339.62,180.1) rotate(-90) scale(0.5)" text-anchor="end">289</text><text transform="translate(344.58,180.1) rotate(-90) scale(0.5)" text-anchor="end">290</text><text transform="translate(349.54,180.1) rotate(-90) scale(0.5)" text-anchor="end">291</text><text transform="translate(354.51,180.1) rotate(-90) scale(0.5)" text-anchor="end">292</text><text transform="translate(359.47,180.1) rotate(-90) scale(0.5)" text-anchor="end">293</text><text transform="translate(364.43,180.1) rotate(-90) scale(0.5)" text-anchor="end">294</text><text transform="translate(369.40,180.1) rotate(-90) scale(0.5)" text-anchor="end">295</text><text transform="translate(374.36,180.1) rotate(-90) scale(0.5)" text-anchor="end">296</text><text transform="translate(379.32,180.1) rotate(-90) scale(0.5)" text-anchor="end">297</text><text transform="translate(384.28,180.1) rotate(-90) scale(0.5)" text-anchor="end">298</text><text transform="translate(389.25,180.1) rotate(-90) scale(0.5)" text-anchor="end">299</text><text transform="translate(394.21,180.1) rotate(-90) scale(0.5)" text-anchor="end">300</text><text transform="translate(399.17,180.1) rotate(-90) scale(0.5)" text-anchor="end">301</text><text transform="translate(404.14,180.1) rotate(-90) scale(0.5)" text-anchor="end">302</text><text transform="translate(409.10,180.1) rotate(-90) scale(0.5)" text-anchor="end">303</text><text transform="translate(414.06,180.1) rotate(-90) scale(0.5)" text-anchor="end">304</text><text transform="translate(419.03,180.1) rotate(-90) scale(0.5)" text-anchor="end">305</text><text transform="translate(423.99,180.1) rotate(-90) scale(0.5)" text-anchor="end">306</text><text transform="translate(428.95,180.1) rotate(-90) scale(0.5)" text-anchor="end">307</text><text transform="translate(433.91,180.1) rotate(-90) scale(0.5)" text-anchor="end">308</text><text transform="translate(438.88,180.1) rotate(-90) scale(0.5)" text-anchor="end">309</text><text transform="translate(443.84,180.1) rotate(-90) scale(0.5)" text-anchor="end">310</text><text transform="translate(448.80,180.1) rotate(-90) scale(0.5)" text-anchor="end">311</text><text transform="translate(453.77,180.1) rotate(-90) scale(0.5)" text-anchor="end">312</text><text transform="translate(458.73,180.1) rotate(-90) scale(0.5)" text-anchor="end">313</text><text transform="translate(463.69,180.1) rotate(-90) scale(0.5)" text-anchor="end">314</text><text transform="translate(468.66,180.1) rotate(-90) scale(0.5)" text-anchor="end">315</text><text transform="translate(473.62,180.1) rotate(-90) scale(0.5)" text-anchor="end">316</text><text transform="translate(478.58,180.1) rotate(-90) scale(0.5)" text-anchor="end">317</text><text transform="translate(483.54,180.1) rotate(-90) scale(0.5)" text-anchor="end">318</text><text transform="translate(488.51,180.1) rotate(-90) scale(0.5)" text-anchor="end">319</text><text transform="translate(493.47,180.1) rotate(-90) scale(0.5)" text-anchor="end">320</text><text transform="translate(498.43,180.1) rotate(-90) scale(0.5)" text-anchor="end">321</text><text transform="translate(503.40,180.1) rotate(-90) scale(0.5)" text-anchor="end">322</text><text transform="translate(508.36,180.1) rotate(-90) scale(0.5)" text-anchor="end">323</text><text transform="translate(513.32,180.1) rotate(-90) scale(0.5)" text-anchor="end">324</text><text transform="translate(518.28,180.1) rotate(-90) scale(0.5)" text-anchor="end">325</text><text transform="translate(523.25,180.1) rotate(-90) scale(0.5)" text-anchor="end">326</text><text transform="translate(528.21,180.1) rotate(-90) scale(0.5)" text-anchor="end">327</text><text transform="translate(533.17,180.1) rotate(-90) scale(0.5)" text-anchor="end">328</text><text transform="translate(538.14,180.1) rotate(-90) scale(0.5)" text-anchor="end">329</text><text transform="translate(543.10,180.1) rotate(-90) scale(0.5)" text-anchor="end">330</text><text transform="translate(548.06,180.1) rotate(-90) scale(0.5)" text-anchor="end">331</text><text transform="translate(553.03,180.1) rotate(-90) scale(0.5)" text-anchor="end">332</text><text transform="translate(557.99,180.1) rotate(-90) scale(0.5)" text-anchor="end">333</text><text transform="translate(562.95,180.1) rotate(-90) scale(0.5)" text-anchor="end">334</text><text transform="translate(567.91,180.1) rotate(-90) scale(0.5)" text-anchor="end">335</text><text transform="translate(572.88,180.1) rotate(-90) scale(0.5)" text-anchor="end">336</text><text transform="translate(577.84,180.1) rotate(-90) scale(0.5)" text-anchor="end">337</text><text transform="translate(582.80,180.1) rotate(-90) scale(0.5)" text-anchor="end">338</text><text transform="translate(587.77,180.1) rotate(-90) scale(0.5)" text-anchor="end">339</text><text transform="translate(592.73,180.1) rotate(-90) scale(0.5)" text-anchor="end">340</text><text transform="translate(597.69,180.1) rotate(-90) scale(0.5)" text-anchor="end">341</text><text transform="translate(602.66,180.1) rotate(-90) scale(0.5)" text-anchor="end">342</text><text transform="translate(607.62,180.1) rotate(-90) scale(0.5)" text-anchor="end">343</text><text transform="translate(612.58,180.1) rotate(-90) scale(0.5)" text-anchor="end">344</text><text transform="translate(617.54,180.1) rotate(-90) scale(0.5)" text-anchor="end">345</text><text transform="translate(622.51,180.1) rotate(-90) scale(0.5)" text-anchor="end">346</text><text transform="translate(627.47,180.1) rotate(-90) scale(0.5)" text-anchor="end">347</text><text transform="translate(632.43,180.1) rotate(-90) scale(0.5)" text-anchor="end">348</text><text transform="translate(637.40,180.1) rotate(-90) scale(0.5)" text-anchor="end">349</text><text transform="translate(642.36,180.1) rotate(-90) scale(0.5)" text-anchor="end">350</text><text transform="translate(647.32,180.1) rotate(-90) scale(0.5)" text-anchor="end">351</text></g>
<text transform="translate(72.22,8.70) rotate(-90) scale(0.5)" font-family='"Liberation Serif", serif' font-weight="bold" font-size="10.4" fill="#222">235</text>
<text transform="translate(77.58,114.14) rotate(-90) scale(0.5)" font-family='"Liberation Serif", serif' font-weight="bold" font-size="10.4" fill="#222">236</text>
<text transform="translate(91.97,123.18) rotate(-90) scale(0.5)" font-family='"Liberation Serif", serif' font-weight="bold" font-size="10.4" fill="#222">239</text>
<text transform="translate(284.72,148.01) rotate(-90) scale(0.5)" font-family='"Liberation Serif", serif' font-weight="bold" font-size="10.4" fill="#222">278</text>
<text transform="translate(389.45,148.51) rotate(-90) scale(0.5)" font-family='"Liberation Serif", serif' font-weight="bold" font-size="10.4" fill="#222">299</text>
<text transform="translate(398.77,142.68) rotate(-90) scale(0.5)" font-family='"Liberation Serif", serif' font-weight="bold" font-size="10.4" fill="#222">301</text>
<text transform="translate(504.10,109.82) rotate(-90) scale(0.5)" font-family='"Liberation Serif", serif' font-weight="bold" font-size="10.4" fill="#222">322</text>
<text transform="translate(543.90,118.10) rotate(-90) scale(0.5)" font-family='"Liberation Serif", serif' font-weight="bold" font-size="10.4" fill="#222">330</text>
<text transform="translate(549.06,134.56) rotate(-90) scale(0.5)" font-family='"Liberation Serif", serif' font-weight="bold" font-size="10.4" fill="#222">331</text>
</g>
<text x="355.4" y="211.2" font-family='"Liberation Sans", sans-serif' font-weight="bold" font-size="13.6" fill="#111">a</text>
<g id="genes">
<line x1="80.3" y1="229.9" x2="90" y2="229.9" stroke="#000" stroke-width="1.4"/>
<line x1="547" y1="230.1" x2="610" y2="230.1" stroke="#000" stroke-width="1.4"/>
<rect x="89.5" y="223.3" width="165.30" height="13.00" fill="url(#gb)"/><path d="M89.5 223.3L98.10 230.0L89.5 236.3z" fill="#3f85e2"/><path d="M254.8 223.3L247.00 230.0L254.8 236.3z" fill="#4b92ee" opacity="0.8"/><path d="M254.8 220.2L283.9 230.0L254.8 236.8z" fill="#58a4f6"/><path d="M254.8 220.2L283.9 230.0L262.8 229.6z" fill="#72d2fd"/><path d="M255.0 220.5L280.9 229.0" stroke="#8eeeff" stroke-width="1.2" fill="none"/><path d="M254.8 220.2L263.20 230.0L254.8 236.8z" fill="#4189e6"/><rect x="254.5" y="220.79999999999998" width="0.9" height="15.80" fill="#2f6fd0"/>
<rect x="284.6" y="223.3" width="164.60" height="13.00" fill="url(#gb)"/><path d="M284.6 223.3L293.20 230.0L284.6 236.3z" fill="#3f85e2"/><path d="M449.2 223.3L441.40 230.0L449.2 236.3z" fill="#4b92ee" opacity="0.8"/><path d="M449.2 220.2L478.2 230.0L449.2 236.8z" fill="#58a4f6"/><path d="M449.2 220.2L478.2 230.0L457.2 229.6z" fill="#72d2fd"/><path d="M449.4 220.5L475.2 229.0" stroke="#8eeeff" stroke-width="1.2" fill="none"/><path d="M449.2 220.2L457.60 230.0L449.2 236.8z" fill="#4189e6"/><rect x="448.9" y="220.79999999999998" width="0.9" height="15.80" fill="#2f6fd0"/>
<rect x="480.0" y="223.3" width="40.10" height="13.00" fill="url(#gb)"/><path d="M480.0 223.3L488.60 230.0L480.0 236.3z" fill="#3f85e2"/><path d="M520.1 223.3L512.30 230.0L520.1 236.3z" fill="#4b92ee" opacity="0.8"/><path d="M520.1 220.2L548.4 230.0L520.1 236.8z" fill="#58a4f6"/><path d="M520.1 220.2L548.4 230.0L528.1 229.6z" fill="#72d2fd"/><path d="M520.3000000000001 220.5L545.4 229.0" stroke="#8eeeff" stroke-width="1.2" fill="none"/><path d="M520.1 220.2L528.50 230.0L520.1 236.8z" fill="#4189e6"/><rect x="519.8000000000001" y="220.79999999999998" width="0.9" height="15.80" fill="#2f6fd0"/>
<rect x="550" y="224.3" width="7.4" height="11.8" fill="#e9c22e"/>
<path d="M550 224.3L554.6 230.1L550 236.1z" fill="#d2a41c"/>
<path d="M557.2 222.4L563.2 230.1L557.2 239.4z" fill="#f4d43a"/>
<path d="M557.2 222.4L560 230.1L557.2 239.4z" fill="#e0b424"/>
<rect x="596.6" y="224.3" width="6.5" height="10" fill="#9e2c6c"/>
<path d="M589.3 230.1L597 222.5L597 239.5z" fill="#a32f70"/>
<path d="M589.3 230.1L597 230.1L597 239.5z" fill="#c04c8e"/>
<text x="176.3" y="232.9" font-family='"Liberation Serif", serif' font-size="9.6" fill="#111" stroke="#111" stroke-width="0.15" text-anchor="middle"><tspan font-style="italic">srf</tspan>A-A</text>
<text x="366.5" y="232.9" font-family='"Liberation Serif", serif' font-size="9.6" fill="#111" stroke="#111" stroke-width="0.15" text-anchor="middle"><tspan font-style="italic">srf</tspan>A-B</text>
<text x="497.3" y="232.9" font-family='"Liberation Serif", serif' font-size="9.6" fill="#111" stroke="#111" stroke-width="0.15" text-anchor="middle"><tspan font-style="italic">srf</tspan>A-C</text>
<text x="542.2" y="219.7" font-family='"Liberation Serif", serif' font-size="9.6" fill="#111" stroke="#111" stroke-width="0.15" text-anchor="start"><tspan font-style="italic">srf</tspan>A-D</text>
<text x="593.0" y="219.6" font-family='"Liberation Serif", serif' font-size="9.6" font-style="italic" fill="#111" stroke="#111" stroke-width="0.25">sfp</text>
</g>
<g id="modules">
<rect x="112.9" y="261.3" width="53.8" height="2.4" fill="#c2c2c2"/>
<rect x="112.9" y="246" width="53.8" height="15.4" fill="url(#gbox)"/>
<rect x="112.9" y="246" width="0.9" height="15.4" fill="#949aa2"/>
<path d="M117.50 247.5Q115.30 247.5 115.30 250.2V257.4Q115.30 260.1 117.50 260.1" stroke="#fff" stroke-width="2" fill="none"/>
<path d="M163.50 247.4Q165.80 247.4 165.80 250.2V257.4Q165.80 260.2 163.50 260.2" stroke="#fff" stroke-width="2.3" fill="none"/>
<text x="140.4" y="256.4" font-family='"Liberation Serif", serif' font-size="10.2" fill="#111" stroke="#111" stroke-width="0.2" text-anchor="middle">Glu1</text>
<rect x="168.2" y="261.3" width="52.0" height="2.4" fill="#c2c2c2"/>
<rect x="168.2" y="246" width="52.0" height="15.4" fill="url(#gbox)"/>
<rect x="168.2" y="246" width="0.9" height="15.4" fill="#949aa2"/>
<path d="M172.80 247.5Q170.60 247.5 170.60 250.2V257.4Q170.60 260.1 172.80 260.1" stroke="#fff" stroke-width="2" fill="none"/>
<path d="M217.00 247.4Q219.30 247.4 219.30 250.2V257.4Q219.30 260.2 217.00 260.2" stroke="#fff" stroke-width="2.3" fill="none"/>
<text x="194.8" y="256.4" font-family='"Liberation Serif", serif' font-size="10.2" fill="#111" stroke="#111" stroke-width="0.2" text-anchor="middle">Leu2</text>
<rect x="221.6" y="261.3" width="67.1" height="2.4" fill="#c2c2c2"/>
<rect x="221.6" y="246" width="67.1" height="15.4" fill="url(#gbox)"/>
<rect x="221.6" y="246" width="0.9" height="15.4" fill="#949aa2"/>
<path d="M226.20 247.5Q224.00 247.5 224.00 250.2V257.4Q224.00 260.1 226.20 260.1" stroke="#fff" stroke-width="2" fill="none"/>
<path d="M285.50 247.4Q287.80 247.4 287.80 250.2V257.4Q287.80 260.2 285.50 260.2" stroke="#fff" stroke-width="2.3" fill="none"/>
<text x="255.7" y="256.4" font-family='"Liberation Serif", serif' font-size="10.2" fill="#111" stroke="#111" stroke-width="0.2" text-anchor="middle">D-Leu3</text>
<rect x="297.9" y="261.3" width="54.4" height="2.4" fill="#c2c2c2"/>
<rect x="297.9" y="246" width="54.4" height="15.4" fill="url(#gbox)"/>
<rect x="297.9" y="246" width="0.9" height="15.4" fill="#949aa2"/>
<path d="M302.50 247.5Q300.30 247.5 300.30 250.2V257.4Q300.30 260.1 302.50 260.1" stroke="#fff" stroke-width="2" fill="none"/>
<path d="M349.10 247.4Q351.40 247.4 351.40 250.2V257.4Q351.40 260.2 349.10 260.2" stroke="#fff" stroke-width="2.3" fill="none"/>
<text x="325.7" y="256.4" font-family='"Liberation Serif", serif' font-size="10.2" fill="#111" stroke="#111" stroke-width="0.2" text-anchor="middle">Val4</text>
<rect x="353.9" y="261.3" width="51.6" height="2.4" fill="#c2c2c2"/>
<rect x="353.9" y="246" width="51.6" height="15.4" fill="url(#gbox)"/>
<rect x="353.9" y="246" width="0.9" height="15.4" fill="#949aa2"/>
<path d="M358.50 247.5Q356.30 247.5 356.30 250.2V257.4Q356.30 260.1 358.50 260.1" stroke="#fff" stroke-width="2" fill="none"/>
<path d="M402.30 247.4Q404.60 247.4 404.60 250.2V257.4Q404.60 260.2 402.30 260.2" stroke="#fff" stroke-width="2.3" fill="none"/>
<text x="380.3" y="256.4" font-family='"Liberation Serif", serif' font-size="10.2" fill="#111" stroke="#111" stroke-width="0.2" text-anchor="middle">Asp5</text>
<rect x="407.5" y="261.3" width="67.8" height="2.4" fill="#c2c2c2"/>
<rect x="407.5" y="246" width="67.8" height="15.4" fill="url(#gbox)"/>
<rect x="407.5" y="246" width="0.9" height="15.4" fill="#949aa2"/>
<path d="M412.10 247.5Q409.90 247.5 409.90 250.2V257.4Q409.90 260.1 412.10 260.1" stroke="#fff" stroke-width="2" fill="none"/>
<path d="M472.10 247.4Q474.40 247.4 474.40 250.2V257.4Q474.40 260.2 472.10 260.2" stroke="#fff" stroke-width="2.3" fill="none"/>
<text x="442.0" y="256.4" font-family='"Liberation Serif", serif' font-size="10.2" fill="#111" stroke="#111" stroke-width="0.2" text-anchor="middle">D-Leu6</text>
<rect x="483.9" y="261.3" width="67.0" height="2.4" fill="#c2c2c2"/>
<rect x="483.9" y="246" width="67.0" height="15.4" fill="url(#gbox)"/>
<rect x="483.9" y="246" width="0.9" height="15.4" fill="#949aa2"/>
<path d="M488.50 247.5Q486.30 247.5 486.30 250.2V257.4Q486.30 260.1 488.50 260.1" stroke="#fff" stroke-width="2" fill="none"/>
<path d="M547.70 247.4Q550.00 247.4 550.00 250.2V257.4Q550.00 260.2 547.70 260.2" stroke="#fff" stroke-width="2.3" fill="none"/>
<text x="518.0" y="256.4" font-family='"Liberation Serif", serif' font-size="10.2" fill="#111" stroke="#111" stroke-width="0.2" text-anchor="middle">Leu7</text>
</g>
<path d="M9.8 293L111.8 262.5V255.6" stroke="#222" stroke-width="0.9" fill="none"/>
<path d="M550.3 256.5V262.5L670.5 292.1" stroke="#222" stroke-width="0.9" fill="none"/>
<text transform="translate(17.6,276.2) rotate(-15.8)" font-family='"Liberation Serif", serif' font-size="8.4" letter-spacing="0.38" fill="#1a1a1a" stroke="#1a1a1a" stroke-width="0.3">Extraction of putative</text>
<text transform="translate(19.2,284.4) rotate(-16.1)" font-family='"Liberation Serif", serif' font-size="8.4" letter-spacing="0.38" fill="#1a1a1a" stroke="#1a1a1a" stroke-width="0.3">binding pocket residues</text>
<text transform="translate(564.7,254.7) rotate(13.3)" font-family='"Liberation Serif", serif' font-size="8.4" letter-spacing="0.38" fill="#1a1a1a" stroke="#1a1a1a" stroke-width="0.3">Extraction of putative</text>
<text transform="translate(562.0,261.9) rotate(13.6)" font-family='"Liberation Serif", serif' font-size="8.4" letter-spacing="0.38" fill="#1a1a1a" stroke="#1a1a1a" stroke-width="0.3">binding pocket residues</text>
<g id="domains">
<path d="M118.20 280.90L128.00 280.90L128.00 275.90L134.80 285.60L128.00 295.60L128.00 291.00L118.20 291.00Q119.50 285.95 118.20 280.90z" fill="#f4f7a2" stroke="#111" stroke-width="0.9" stroke-linejoin="miter"/><text x="124.40" y="288.69" font-family='"Liberation Sans", sans-serif' font-size="7.6" fill="#333" text-anchor="middle">C</text><path d="M135.50 280.00L146.50 280.00L146.50 274.90L154.10 284.50L146.50 294.20L146.50 289.20L135.50 289.20Q136.80 284.60 135.50 280.00z" fill="#f38fd6" stroke="#111" stroke-width="0.9" stroke-linejoin="miter"/><text x="143.80" y="287.34" font-family='"Liberation Sans", sans-serif' font-size="7.6" fill="#333" text-anchor="middle">A</text><rect x="155.00" y="272.40" width="4.80" height="21.80" rx="2.40" fill="#6363f2" stroke="#2a2a8a" stroke-width="0.7"/><text x="157.40" y="285.64" font-family='"Liberation Sans", sans-serif' font-size="6.5" fill="#222" text-anchor="middle">T</text>
<path d="M174.20 280.90L184.00 280.90L184.00 275.90L190.80 285.60L184.00 295.60L184.00 291.00L174.20 291.00Q175.50 285.95 174.20 280.90z" fill="#f4f7a2" stroke="#111" stroke-width="0.9" stroke-linejoin="miter"/><text x="180.40" y="288.69" font-family='"Liberation Sans", sans-serif' font-size="7.6" fill="#333" text-anchor="middle">C</text><path d="M191.50 280.00L202.50 280.00L202.50 274.90L210.10 284.50L202.50 294.20L202.50 289.20L191.50 289.20Q192.80 284.60 191.50 280.00z" fill="#f38fd6" stroke="#111" stroke-width="0.9" stroke-linejoin="miter"/><text x="199.80" y="287.34" font-family='"Liberation Sans", sans-serif' font-size="7.6" fill="#333" text-anchor="middle">A</text><rect x="211.00" y="272.40" width="4.80" height="21.80" rx="2.40" fill="#6363f2" stroke="#2a2a8a" stroke-width="0.7"/><text x="213.40" y="285.64" font-family='"Liberation Sans", sans-serif' font-size="6.5" fill="#222" text-anchor="middle">T</text>
<path d="M225.20 280.90L235.00 280.90L235.00 275.90L241.80 285.60L235.00 295.60L235.00 291.00L225.20 291.00Q226.50 285.95 225.20 280.90z" fill="#f4f7a2" stroke="#111" stroke-width="0.9" stroke-linejoin="miter"/><text x="231.40" y="288.69" font-family='"Liberation Sans", sans-serif' font-size="7.6" fill="#333" text-anchor="middle">C</text><path d="M242.50 280.00L253.50 280.00L253.50 274.90L261.10 284.50L253.50 294.20L253.50 289.20L242.50 289.20Q243.80 284.60 242.50 280.00z" fill="#f38fd6" stroke="#111" stroke-width="0.9" stroke-linejoin="miter"/><text x="250.80" y="287.34" font-family='"Liberation Sans", sans-serif' font-size="7.6" fill="#333" text-anchor="middle">A</text><rect x="262.00" y="272.40" width="4.80" height="21.80" rx="2.40" fill="#6363f2" stroke="#2a2a8a" stroke-width="0.7"/><text x="264.40" y="285.64" font-family='"Liberation Sans", sans-serif' font-size="6.5" fill="#222" text-anchor="middle">T</text><path d="M267.00 278.30L283.20 278.30L283.20 272.40L290.80 284.20L283.20 295.40L283.20 289.20L267.00 289.20z" fill="#e21ee2" stroke="#111" stroke-width="0.9" stroke-linejoin="miter"/><text x="275.70" y="286.63" font-family='"Liberation Sans", sans-serif' font-size="8" fill="#333" text-anchor="middle">E</text>
<path d="M302.10 280.90L311.90 280.90L311.90 275.90L318.70 285.60L311.90 295.60L311.90 291.00L302.10 291.00Q303.40 285.95 302.10 280.90z" fill="#f4f7a2" stroke="#111" stroke-width="0.9" stroke-linejoin="miter"/><text x="308.30" y="288.69" font-family='"Liberation Sans", sans-serif' font-size="7.6" fill="#333" text-anchor="middle">C</text><path d="M319.40 280.00L330.40 280.00L330.40 274.90L338.00 284.50L330.40 294.20L330.40 289.20L319.40 289.20Q320.70 284.60 319.40 280.00z" fill="#f38fd6" stroke="#111" stroke-width="0.9" stroke-linejoin="miter"/><text x="327.70" y="287.34" font-family='"Liberation Sans", sans-serif' font-size="7.6" fill="#333" text-anchor="middle">A</text><rect x="338.90" y="272.40" width="4.80" height="21.80" rx="2.40" fill="#6363f2" stroke="#2a2a8a" stroke-width="0.7"/><text x="341.30" y="285.64" font-family='"Liberation Sans", sans-serif' font-size="6.5" fill="#222" text-anchor="middle">T</text>
<path d="M348.60 280.90L358.40 280.90L358.40 275.90L365.20 285.60L358.40 295.60L358.40 291.00L348.60 291.00Q349.90 285.95 348.60 280.90z" fill="#f4f7a2" stroke="#111" stroke-width="0.9" stroke-linejoin="miter"/><text x="354.80" y="288.69" font-family='"Liberation Sans", sans-serif' font-size="7.6" fill="#333" text-anchor="middle">C</text><path d="M365.90 280.00L376.90 280.00L376.90 274.90L384.50 284.50L376.90 294.20L376.90 289.20L365.90 289.20Q367.20 284.60 365.90 280.00z" fill="#f38fd6" stroke="#111" stroke-width="0.9" stroke-linejoin="miter"/><text x="374.20" y="287.34" font-family='"Liberation Sans", sans-serif' font-size="7.6" fill="#333" text-anchor="middle">A</text><rect x="385.40" y="272.40" width="4.80" height="21.80" rx="2.40" fill="#6363f2" stroke="#2a2a8a" stroke-width="0.7"/><text x="387.80" y="285.64" font-family='"Liberation Sans", sans-serif' font-size="6.5" fill="#222" text-anchor="middle">T</text>
<path d="M408.20 280.90L418.00 280.90L418.00 275.90L424.80 285.60L418.00 295.60L418.00 291.00L408.20 291.00Q409.50 285.95 408.20 280.90z" fill="#f4f7a2" stroke="#111" stroke-width="0.9" stroke-linejoin="miter"/><text x="414.40" y="288.69" font-family='"Liberation Sans", sans-serif' font-size="7.6" fill="#333" text-anchor="middle">C</text><path d="M425.50 280.00L436.50 280.00L436.50 274.90L444.10 284.50L436.50 294.20L436.50 289.20L425.50 289.20Q426.80 284.60 425.50 280.00z" fill="#f38fd6" stroke="#111" stroke-width="0.9" stroke-linejoin="miter"/><text x="433.80" y="287.34" font-family='"Liberation Sans", sans-serif' font-size="7.6" fill="#333" text-anchor="middle">A</text><rect x="445.00" y="272.40" width="4.80" height="21.80" rx="2.40" fill="#6363f2" stroke="#2a2a8a" stroke-width="0.7"/><text x="447.40" y="285.64" font-family='"Liberation Sans", sans-serif' font-size="6.5" fill="#222" text-anchor="middle">T</text><path d="M450.00 278.30L466.20 278.30L466.20 272.40L473.80 284.20L466.20 295.40L466.20 289.20L450.00 289.20z" fill="#e21ee2" stroke="#111" stroke-width="0.9" stroke-linejoin="miter"/><text x="458.70" y="286.63" font-family='"Liberation Sans", sans-serif' font-size="8" fill="#333" text-anchor="middle">E</text>
<path d="M485.60 280.90L495.40 280.90L495.40 275.90L502.20 285.60L495.40 295.60L495.40 291.00L485.60 291.00Q486.90 285.95 485.60 280.90z" fill="#f4f7a2" stroke="#111" stroke-width="0.9" stroke-linejoin="miter"/><text x="491.80" y="288.69" font-family='"Liberation Sans", sans-serif' font-size="7.6" fill="#333" text-anchor="middle">C</text><path d="M502.90 280.00L513.90 280.00L513.90 274.90L521.50 284.50L513.90 294.20L513.90 289.20L502.90 289.20Q504.20 284.60 502.90 280.00z" fill="#f38fd6" stroke="#111" stroke-width="0.9" stroke-linejoin="miter"/><text x="511.20" y="287.34" font-family='"Liberation Sans", sans-serif' font-size="7.6" fill="#333" text-anchor="middle">A</text><rect x="522.40" y="272.40" width="4.80" height="21.80" rx="2.40" fill="#6363f2" stroke="#2a2a8a" stroke-width="0.7"/><text x="524.80" y="285.64" font-family='"Liberation Sans", sans-serif' font-size="6.5" fill="#222" text-anchor="middle">T</text><path d="M527.60 278.10L539.00 278.10L539.00 271.20L542.80 284.30L539.00 297.40L539.00 290.60L527.60 290.60z" fill="#3fb252" stroke="#111" stroke-width="0.9" stroke-linejoin="miter"/><text x="533.90" y="286.87" font-family='"Liberation Sans", sans-serif' font-size="7" fill="#333" text-anchor="middle">TEI</text><path d="M544.30 278.10L557.20 278.10L557.20 271.20L561.90 284.30L557.20 297.40L557.20 290.60L544.30 290.60z" fill="#6cc0a2" stroke="#111" stroke-width="0.9" stroke-linejoin="miter"/><text x="551.35" y="286.87" font-family='"Liberation Sans", sans-serif' font-size="7" fill="#333" text-anchor="middle">TEII</text>
</g>
<g id="align">
<rect x="95.97" y="320.8" width="39.70" height="60" fill="#f1f72e"/>
<rect x="309.38" y="320.8" width="19.85" height="60" fill="#f1f72e"/>
<rect x="428.49" y="320.8" width="29.78" height="60" fill="#f1f72e"/>
<rect x="577.38" y="320.8" width="64.52" height="60" fill="#f1f72e"/>
<rect x="105.90" y="320.8" width="9.93" height="60" fill="#e12a1a"/>
<rect x="125.75" y="320.8" width="4.96" height="60" fill="#e12a1a"/>
<rect x="319.31" y="320.8" width="4.96" height="60" fill="#e12a1a"/>
<rect x="438.42" y="320.8" width="4.96" height="60" fill="#e12a1a"/>
<rect x="448.34" y="320.8" width="4.96" height="60" fill="#e12a1a"/>
<rect x="587.31" y="320.8" width="4.96" height="60" fill="#e12a1a"/>
<rect x="627.01" y="320.8" width="9.93" height="60" fill="#e12a1a"/>
<text y="325.80" font-family='"Liberation Sans", sans-serif' font-style="italic" font-size="6.4" fill="#333"><tspan x="9.2">Glu</tspan><tspan x="22.4">(</tspan><tspan x="25.0">srfA-A1</tspan><tspan x="46.0">)</tspan></text>
<text x="63.71 68.67 73.64 78.60 83.56 88.53 93.49 98.45 103.42 108.38 113.34 118.30 123.27 128.23 133.19 138.16 143.12 148.08 153.05 158.01 162.97 167.93 172.90 177.86 182.82 187.79 192.75 197.71 202.68 207.64 212.60 217.56 222.53 227.49 232.45 237.42 242.38 247.34 252.31 257.27 262.23 267.19 272.16 277.12 282.08 287.05 292.01 296.97 301.94 306.90 311.86 316.82 321.79 326.75 331.71 336.68 341.64 346.60 351.57 356.53 361.49 366.45 371.42 376.38 381.34 386.31 391.27 396.23 401.20 406.16 411.12 416.08 421.05 426.01 430.97 435.94 440.90 445.86 450.83 455.79 460.75 465.71 470.68 475.64 480.60 485.57 490.53 495.49 500.46 505.42 510.38 515.34 520.31 525.27 530.23 535.20 540.16 545.12 550.09 555.05 560.01 564.97 569.94 574.90 579.86 584.83 589.79 594.75 599.72 604.68 609.64 614.60 619.57 624.53 629.49 634.46 639.42 644.38 649.35 654.31 659.27 664.23 669.20" y="325.80" font-family='"Liberation Sans", sans-serif' font-size="6.5" fill="#1a1a1a" stroke="#1a1a1a" stroke-width="0.2" text-anchor="middle">MALLAPFHFDASVKQIFAALLFGHTLHIIPRETTRNGVQLAAYYRKHQIEAADGTPAHVQLLLAAELDGL-SLRHMLVGGEALPAKAAYSLIEAVRMSEPAFTLVNVYGPTETCVDAAVHRLE</text>
<text y="334.67" font-family='"Liberation Sans", sans-serif' font-style="italic" font-size="6.4" fill="#333"><tspan x="9.2">D-Leu</tspan><tspan x="29.6">(</tspan><tspan x="32.2">srfA-A3</tspan><tspan x="53.2">)</tspan></text>
<text x="63.71 68.67 73.64 78.60 83.56 88.53 93.49 98.45 103.42 108.38 113.34 118.30 123.27 128.23 133.19 138.16 143.12 148.08 153.05 158.01 162.97 167.93 172.90 177.86 182.82 187.79 192.75 197.71 202.68 207.64 212.60 217.56 222.53 227.49 232.45 237.42 242.38 247.34 252.31 257.27 262.23 267.19 272.16 277.12 282.08 287.05 292.01 296.97 301.94 306.90 311.86 316.82 321.79 326.75 331.71 336.68 341.64 346.60 351.57 356.53 361.49 366.45 371.42 376.38 381.34 386.31 391.27 396.23 401.20 406.16 411.12 416.08 421.05 426.01 430.97 435.94 440.90 445.86 450.83 455.79 460.75 465.71 470.68 475.64 480.60 485.57 490.53 495.49 500.46 505.42 510.38 515.34 520.31 525.27 530.23 535.20 540.16 545.12 550.09 555.05 560.01 564.97 569.94 574.90 579.86 584.83 589.79 594.75 599.72 604.68 609.64 614.60 619.57 624.53 629.49 634.46 639.42 644.38 649.35 654.31 659.27 664.23 669.20" y="334.67" font-family='"Liberation Sans", sans-serif' font-size="6.5" fill="#1a1a1a" stroke="#1a1a1a" stroke-width="0.2" text-anchor="middle">TAKYAGFGFDASIWEMFPTWIAGAELHIIDEAIRLDMIKLNTYFNDENITVAFLPTQLCEQFMSMDNHS---LRYLLTGGDKLKQVK-----------PVPYQLVNNYGPTENTVVATSGIIN</text>
<text y="343.54" font-family='"Liberation Sans", sans-serif' font-style="italic" font-size="6.4" fill="#333"><tspan x="9.2">D-Leu</tspan><tspan x="29.6">(</tspan><tspan x="32.2">srfA-B3</tspan><tspan x="53.2">)</tspan></text>
<text x="63.71 68.67 73.64 78.60 83.56 88.53 93.49 98.45 103.42 108.38 113.34 118.30 123.27 128.23 133.19 138.16 143.12 148.08 153.05 158.01 162.97 167.93 172.90 177.86 182.82 187.79 192.75 197.71 202.68 207.64 212.60 217.56 222.53 227.49 232.45 237.42 242.38 247.34 252.31 257.27 262.23 267.19 272.16 277.12 282.08 287.05 292.01 296.97 301.94 306.90 311.86 316.82 321.79 326.75 331.71 336.68 341.64 346.60 351.57 356.53 361.49 366.45 371.42 376.38 381.34 386.31 391.27 396.23 401.20 406.16 411.12 416.08 421.05 426.01 430.97 435.94 440.90 445.86 450.83 455.79 460.75 465.71 470.68 475.64 480.60 485.57 490.53 495.49 500.46 505.42 510.38 515.34 520.31 525.27 530.23 535.20 540.16 545.12 550.09 555.05 560.01 564.97 569.94 574.90 579.86 584.83 589.79 594.75 599.72 604.68 609.64 614.60 619.57 624.53 629.49 634.46 639.42 644.38 649.35 654.31 659.27 664.23 669.20" y="343.54" font-family='"Liberation Sans", sans-serif' font-size="6.5" fill="#1a1a1a" stroke="#1a1a1a" stroke-width="0.2" text-anchor="middle">TAKYAGFGFDASIWEMFPTWIAGAELHIIDEAIRLDMIKLNAYFNDENITIAFLPTQLCEQFMSMDNHS---LRYLLTGGDKLKQVK-----------PVPYQLVNNYGPTENTVVATSGIIN</text>
<text x="9.2" y="352.41" font-family='"Liberation Sans", sans-serif' font-style="italic" font-size="6.4" fill="#333">Leu(srfA-A2)</text>
<text x="63.71 68.67 73.64 78.60 83.56 88.53 93.49 98.45 103.42 108.38 113.34 118.30 123.27 128.23 133.19 138.16 143.12 148.08 153.05 158.01 162.97 167.93 172.90 177.86 182.82 187.79 192.75 197.71 202.68 207.64 212.60 217.56 222.53 227.49 232.45 237.42 242.38 247.34 252.31 257.27 262.23 267.19 272.16 277.12 282.08 287.05 292.01 296.97 301.94 306.90 311.86 316.82 321.79 326.75 331.71 336.68 341.64 346.60 351.57 356.53 361.49 366.45 371.42 376.38 381.34 386.31 391.27 396.23 401.20 406.16 411.12 416.08 421.05 426.01 430.97 435.94 440.90 445.86 450.83 455.79 460.75 465.71 470.68 475.64 480.60 485.57 490.53 495.49 500.46 505.42 510.38 515.34 520.31 525.27 530.23 535.20 540.16 545.12 550.09 555.05 560.01 564.97 569.94 574.90 579.86 584.83 589.79 594.75 599.72 604.68 609.64 614.60 619.57 624.53 629.49 634.46 639.42 644.38 649.35 654.31 659.27 664.23 669.20" y="352.41" font-family='"Liberation Sans", sans-serif' font-size="6.5" fill="#1a1a1a" stroke="#1a1a1a" stroke-width="0.2" text-anchor="middle">VMSLSNYVFDAFMFDVFGALLNGAKLIVLPKDHILNMNELSGAIEKEKVSILMITTALFHLLIDMKKDSLKNVRKVLFGGERASVPHVM----TALETVGEGKLVHMYGPSESTIFTTYYPVN</text>
<text x="9.2" y="361.28" font-family='"Liberation Sans", sans-serif' font-style="italic" font-size="6.4" fill="#333">Leu(srfA-C1)</text>
<text x="63.71 68.67 73.64 78.60 83.56 88.53 93.49 98.45 103.42 108.38 113.34 118.30 123.27 128.23 133.19 138.16 143.12 148.08 153.05 158.01 162.97 167.93 172.90 177.86 182.82 187.79 192.75 197.71 202.68 207.64 212.60 217.56 222.53 227.49 232.45 237.42 242.38 247.34 252.31 257.27 262.23 267.19 272.16 277.12 282.08 287.05 292.01 296.97 301.94 306.90 311.86 316.82 321.79 326.75 331.71 336.68 341.64 346.60 351.57 356.53 361.49 366.45 371.42 376.38 381.34 386.31 391.27 396.23 401.20 406.16 411.12 416.08 421.05 426.01 430.97 435.94 440.90 445.86 450.83 455.79 460.75 465.71 470.68 475.64 480.60 485.57 490.53 495.49 500.46 505.42 510.38 515.34 520.31 525.27 530.23 535.20 540.16 545.12 550.09 555.05 560.01 564.97 569.94 574.90 579.86 584.83 589.79 594.75 599.72 604.68 609.64 614.60 619.57 624.53 629.49 634.46 639.42 644.38 649.35 654.31 659.27 664.23 669.20" y="361.28" font-family='"Liberation Sans", sans-serif' font-size="6.5" fill="#1a1a1a" stroke="#1a1a1a" stroke-width="0.2" text-anchor="middle">LLSLSNSVFDGFTFDVYGALLNGAKLVLPKKETILNMSELTGLIKRENISVMFVPTALFNLLVDEETDWMRSVRKVLFGGERASVQHVR----KAFAVMGKGRLINVYGPTESTVFATYYPVD</text>
<text x="9.2" y="370.15" font-family='"Liberation Sans", sans-serif' font-style="italic" font-size="6.4" fill="#333">Val(srfA-B1)</text>
<text x="63.71 68.67 73.64 78.60 83.56 88.53 93.49 98.45 103.42 108.38 113.34 118.30 123.27 128.23 133.19 138.16 143.12 148.08 153.05 158.01 162.97 167.93 172.90 177.86 182.82 187.79 192.75 197.71 202.68 207.64 212.60 217.56 222.53 227.49 232.45 237.42 242.38 247.34 252.31 257.27 262.23 267.19 272.16 277.12 282.08 287.05 292.01 296.97 301.94 306.90 311.86 316.82 321.79 326.75 331.71 336.68 341.64 346.60 351.57 356.53 361.49 366.45 371.42 376.38 381.34 386.31 391.27 396.23 401.20 406.16 411.12 416.08 421.05 426.01 430.97 435.94 440.90 445.86 450.83 455.79 460.75 465.71 470.68 475.64 480.60 485.57 490.53 495.49 500.46 505.42 510.38 515.34 520.31 525.27 530.23 535.20 540.16 545.12 550.09 555.05 560.01 564.97 569.94 574.90 579.86 584.83 589.79 594.75 599.72 604.68 609.64 614.60 619.57 624.53 629.49 634.46 639.42 644.38 649.35 654.31 659.27 664.23 669.20" y="370.15" font-family='"Liberation Sans", sans-serif' font-size="6.5" fill="#1a1a1a" stroke="#1a1a1a" stroke-width="0.2" text-anchor="middle">MAHTGAVSFDAITFEIFTTLLGGATLYPVDRDTLLDIHQFERFIQTHQITTLFLTTGLFNQLAQQRPQIFKGLTTLITGGDVINVKSAE----LVKQHHPALVLLNAYGPTENTTISTIYEVR</text>
<text x="9.2" y="379.02" font-family='"Liberation Sans", sans-serif' font-style="italic" font-size="6.4" fill="#333">Asp(srfA-B2)</text>
<text x="63.71 68.67 73.64 78.60 83.56 88.53 93.49 98.45 103.42 108.38 113.34 118.30 123.27 128.23 133.19 138.16 143.12 148.08 153.05 158.01 162.97 167.93 172.90 177.86 182.82 187.79 192.75 197.71 202.68 207.64 212.60 217.56 222.53 227.49 232.45 237.42 242.38 247.34 252.31 257.27 262.23 267.19 272.16 277.12 282.08 287.05 292.01 296.97 301.94 306.90 311.86 316.82 321.79 326.75 331.71 336.68 341.64 346.60 351.57 356.53 361.49 366.45 371.42 376.38 381.34 386.31 391.27 396.23 401.20 406.16 411.12 416.08 421.05 426.01 430.97 435.94 440.90 445.86 450.83 455.79 460.75 465.71 470.68 475.64 480.60 485.57 490.53 495.49 500.46 505.42 510.38 515.34 520.31 525.27 530.23 535.20 540.16 545.12 550.09 555.05 560.01 564.97 569.94 574.90 579.86 584.83 589.79 594.75 599.72 604.68 609.64 614.60 619.57 624.53 629.49 634.46 639.42 644.38 649.35 654.31 659.27 664.23 669.20" y="379.02" font-family='"Liberation Sans", sans-serif' font-size="6.5" fill="#1a1a1a" stroke="#1a1a1a" stroke-width="0.2" text-anchor="middle">TALLSSYAYDLGYTSIFPVLKAGGTLYVPREDVYTDPVRLMRLIDEQELTYIKMTPSLFHMIADSKEHAFNALRLVILGGEPIVSEDVE----TFMEQHPCVAVMNHYGPTETTIGAVTKLIT</text>
<text transform="translate(111.10,317.5) rotate(-90) scale(1,1.2)" font-family='"Liberation Serif", serif' font-weight="bold" font-size="7" fill="#222" stroke="#222" stroke-width="0.3">235</text>
<text transform="translate(118.30,317.5) rotate(-90) scale(1,1.2)" font-family='"Liberation Serif", serif' font-weight="bold" font-size="7" fill="#222" stroke="#222" stroke-width="0.3">236</text>
<text transform="translate(131.80,317.5) rotate(-90) scale(1,1.2)" font-family='"Liberation Serif", serif' font-weight="bold" font-size="7" fill="#222" stroke="#222" stroke-width="0.3">239</text>
<text transform="translate(325.20,317.5) rotate(-90) scale(1,1.2)" font-family='"Liberation Serif", serif' font-weight="bold" font-size="7" fill="#222" stroke="#222" stroke-width="0.3">278</text>
<text transform="translate(445.00,317.5) rotate(-90) scale(1,1.2)" font-family='"Liberation Serif", serif' font-weight="bold" font-size="7" fill="#222" stroke="#222" stroke-width="0.3">299</text>
<text transform="translate(455.00,317.5) rotate(-90) scale(1,1.2)" font-family='"Liberation Serif", serif' font-weight="bold" font-size="7" fill="#222" stroke="#222" stroke-width="0.3">301</text>
<text transform="translate(592.40,317.5) rotate(-90) scale(1,1.2)" font-family='"Liberation Serif", serif' font-weight="bold" font-size="7" fill="#222" stroke="#222" stroke-width="0.3">322</text>
<text transform="translate(632.90,317.5) rotate(-90) scale(1,1.2)" font-family='"Liberation Serif", serif' font-weight="bold" font-size="7" fill="#222" stroke="#222" stroke-width="0.3">330</text>
<text transform="translate(639.50,317.5) rotate(-90) scale(1,1.2)" font-family='"Liberation Serif", serif' font-weight="bold" font-size="7" fill="#222" stroke="#222" stroke-width="0.3">331</text>
<text x="117.5" y="388.9" font-family='"Liberation Serif", serif' font-size="6.2" fill="#222" stroke="#222" stroke-width="0.15" text-anchor="middle">motif 1</text>
<text x="318.6" y="388.9" font-family='"Liberation Serif", serif' font-size="6.2" fill="#222" stroke="#222" stroke-width="0.15" text-anchor="middle">motif 2</text>
<text x="444.9" y="388.9" font-family='"Liberation Serif", serif' font-size="6.2" fill="#222" stroke="#222" stroke-width="0.15" text-anchor="middle">motif 3</text>
<text x="611.4" y="388.9" font-family='"Liberation Serif", serif' font-size="6.2" fill="#222" stroke="#222" stroke-width="0.15" text-anchor="middle">motif 4</text>
</g>
<g id="legend">
<rect x="1.4" y="398.4" width="7.6" height="7.2" fill="#e8201c" stroke="#a81410" stroke-width="0.6"/>
<text x="11.3" y="404.6" font-family='"Liberation Sans", sans-serif' font-size="9.2" fill="#111" stroke="#111" stroke-width="0.15">Stachelhaus codes</text>
<rect x="102.4" y="398.4" width="7" height="7" fill="#eef23a" stroke="#b8b830" stroke-width="0.5"/>
<text x="115.6" y="404.5" font-family='"Liberation Serif", serif' font-size="9.1" fill="#111" stroke="#111" stroke-width="0.15">Core sequences' anchors</text>
<rect x="213" y="398.4" width="8" height="7" fill="#b2b2aa" stroke="#8a8a84" stroke-width="0.5"/>
<text x="226.6" y="404.5" font-family='"Liberation Serif", serif' font-size="9.1" fill="#111" stroke="#111" stroke-width="0.15">Modules</text>
<path d="M266.60 397.90L273.80 397.90L273.80 393.80L281.00 401.90L273.80 409.90L273.80 406.70L266.60 406.70z" fill="#f4f7a2" stroke="#111" stroke-width="0.9" stroke-linejoin="miter"/><text x="270.80" y="404.82" font-family='"Liberation Sans", sans-serif' font-size="7" fill="#333" text-anchor="middle">C</text>
<text x="286.5" y="404.5" font-family='"Liberation Serif", serif' font-size="9.45" fill="#111" stroke="#111" stroke-width="0.15">Condensation</text>
<path d="M343.30 397.60L350.60 397.60L350.60 393.00L358.40 400.50L350.60 408.20L350.60 406.20L343.30 406.20z" fill="#f38fd6" stroke="#111" stroke-width="0.9" stroke-linejoin="miter"/><text x="347.55" y="404.42" font-family='"Liberation Sans", sans-serif' font-size="7" fill="#333" text-anchor="middle">A</text>
<text x="360.6" y="404.5" font-family='"Liberation Serif", serif' font-size="9.5" fill="#111" stroke="#111" stroke-width="0.15">Adenylation</text>
<rect x="414.20" y="393.00" width="3.80" height="16.20" rx="1.90" fill="#6363f2" stroke="#2a2a8a" stroke-width="0.7"/>
<text x="422.8" y="404.5" font-family='"Liberation Serif", serif' font-size="8.9" fill="#111" stroke="#111" stroke-width="0.15">Thiolation</text>
<path d="M467.40 397.40L476.00 397.40L476.00 393.20L484.00 401.40L476.00 409.40L476.00 406.40L467.40 406.40z" fill="#e21ee2" stroke="#111" stroke-width="0.9" stroke-linejoin="miter"/><text x="472.30" y="404.42" font-family='"Liberation Sans", sans-serif' font-size="7" fill="#333" text-anchor="middle">E</text>
<text x="486.6" y="404.5" font-family='"Liberation Serif", serif' font-size="9.5" fill="#111" stroke="#111" stroke-width="0.15">Epimerisation</text>
<path d="M543.20 397.00L555.00 397.00L555.00 394.20L558.90 401.80L555.00 408.80L555.00 406.60L543.20 406.60z" fill="#3fb252" stroke="#111" stroke-width="0.9" stroke-linejoin="miter"/><text x="549.70" y="404.14" font-family='"Liberation Sans", sans-serif' font-size="6.5" fill="#333" text-anchor="middle">TEI</text>
<text x="560.3" y="404.5" font-family='"Liberation Serif", serif' font-size="9.3" fill="#111" stroke="#111" stroke-width="0.15">Thioesterase I</text>
<path d="M614.00 397.00L626.00 397.00L626.00 394.20L629.80 401.80L626.00 408.80L626.00 406.60L614.00 406.60z" fill="#6cc0a2" stroke="#111" stroke-width="0.9" stroke-linejoin="miter"/><text x="620.60" y="404.14" font-family='"Liberation Sans", sans-serif' font-size="6.5" fill="#333" text-anchor="middle">TEI</text>
<text x="630.6" y="404.5" font-family='"Liberation Serif", serif' font-size="9.3" fill="#111" stroke="#111" stroke-width="0.15">Thioesterase</text>
<text x="678.3" y="404.5" font-family='"Liberation Serif", serif' font-size="9.3" fill="#111" stroke="#111" stroke-width="0.15">II</text>
</g>
<text x="355.4" y="431.6" font-family='"Liberation Sans", sans-serif' font-weight="bold" font-size="13.2" fill="#111">b</text>
<g id="struct">
<path d="M187.5 469V583.4" stroke="#4a4a4a" stroke-width="0.9" fill="none"/>
<path d="M261.8 469V583.4M312.4 469V583.4M364.9 469V583.4M411.2 469V583.4M460.3 469V583.4M509.4 469V583.4M564.9 469V583.4" stroke="#7a7a7a" stroke-width="1.3" stroke-dasharray="1.1 0.5" fill="none"/>
<path d="M97.0 488.7L113.7 492.2L126.8 502.7L139.9 492.7L150.2 500.6M113.7 492.2L113.7 478.6M156.4 500.2L165.3 492.7L177.6 502.7L190.7 492.7L197.5 496.9M177.6 502.7L177.6 514.5M198.5 496.9L198.5 510.5M196.5 496.9L196.5 510.5M197.5 496.9L209.0 489.6L226.0 499.3L241.7 490.3L259.4 498.8L275.0 490.1L291.4 499.5L308.1 489.4L325.2 499.3L340.9 489.6L357.8 499.3L374.4 489.9L389.8 499.2L407.9 489.4L424.2 499.2L438.9 489.9L456.9 499.2L473.2 489.9L488.7 499.2L507.3 489.9L522.8 499.2L537.8 489.9L552.5 498.2M240.7 490.3L240.7 473.8M242.7 490.3L242.7 473.8M292.4 499.5L292.4 516.0M290.4 499.5L290.4 516.0M339.9 489.6L339.9 473.1M341.9 489.6L341.9 473.1M390.8 499.2L390.8 515.7M388.8 499.2L388.8 515.7M437.9 489.9L437.9 473.4M439.9 489.9L439.9 473.4M489.7 499.2L489.7 515.7M487.7 499.2L487.7 515.7M536.8 489.9L536.8 473.4M538.8 489.9L538.8 473.4M226.0 518.6L210.2 530.7L210.2 550.0M210.7 550.8L197.5 559.4M209.7 549.2L196.5 557.8M210.2 550.0L222.5 557.8M275.0 469.8L291.4 458.9L306.6 469.0M291.4 458.9L291.4 450.2M325.2 517.4L339.7 529.5L355.4 519.8M339.7 529.5L339.7 548.9M358.9 459.7L374.4 468.7L389.8 459.7M424.2 517.7L438.9 528.1L452.5 520.5M439.9 528.1L439.9 545.5M437.9 528.1L437.9 545.5M473.2 469.2L488.7 459.7L504.2 469.2M488.7 459.7L488.7 450.1M522.8 519.1L537.8 529.4L553.8 519.9M537.8 529.4L537.8 550.1" stroke="#3a3a3a" stroke-width="0.9" fill="none" stroke-linejoin="round"/>
<path d="M226.24 502.62L225.76 502.62M226.37 504.40L225.63 504.40M226.50 506.17L225.50 506.17M226.63 507.95L225.37 507.95M226.76 509.72L225.24 509.72M226.88 511.50L225.12 511.50M227.01 513.27L224.99 513.27M227.14 515.05L224.86 515.05M227.27 516.82L224.73 516.82M227.40 518.60L224.60 518.60M325.44 502.41L324.96 502.41M325.57 504.08L324.83 504.08M325.70 505.74L324.70 505.74M325.83 507.41L324.57 507.41M325.96 509.07L324.44 509.07M326.08 510.74L324.32 510.74M326.21 512.40L324.19 512.40M326.34 514.07L324.06 514.07M326.47 515.73L323.93 515.73M326.60 517.40L323.80 517.40M424.44 502.38L423.96 502.38M424.57 504.08L423.83 504.08M424.70 505.79L423.70 505.79M424.83 507.49L423.57 507.49M424.96 509.19L423.44 509.19M425.08 510.89L423.32 510.89M425.21 512.59L423.19 512.59M425.34 514.30L423.06 514.30M425.47 516.00L422.93 516.00M425.60 517.70L422.80 517.70M523.04 502.62L522.56 502.62M523.17 504.45L522.43 504.45M523.30 506.28L522.30 506.28M523.43 508.12L522.17 508.12M523.56 509.95L522.04 509.95M523.68 511.78L521.92 511.78M523.81 513.61L521.79 513.61M523.94 515.44L521.66 515.44M524.07 517.27L521.53 517.27M524.20 519.10L521.40 519.10" stroke="#3a3a3a" stroke-width="0.7" fill="none"/>
<path d="M275.00 490.10L276.60 469.80L273.40 469.80zM374.40 489.90L376.00 468.70L372.80 468.70zM473.20 489.90L474.80 469.20L471.60 469.20z" fill="#1a1a1a"/>
<text x="114.5" y="477.0" font-family='"Liberation Serif", serif' font-size="6.4" font-weight="normal" text-anchor="middle" fill="#2a2a2a" stroke="#fff" stroke-width="1.6" paint-order="stroke">R</text><text x="180.3" y="522.6" font-family='"Liberation Serif", serif' font-size="6.8" font-weight="normal" text-anchor="middle" fill="#2a2a2a" stroke="#fff" stroke-width="1.6" paint-order="stroke">OH</text><text x="197.4" y="516.4" font-family='"Liberation Sans", sans-serif' font-size="7.0" font-weight="normal" text-anchor="middle" fill="#2a2a2a" stroke="#fff" stroke-width="1.6" paint-order="stroke">O</text><text x="241.7" y="473.0" font-family='"Liberation Sans", sans-serif' font-size="7.0" font-weight="normal" text-anchor="middle" fill="#2a2a2a" stroke="#fff" stroke-width="1.6" paint-order="stroke">O</text><text x="291.4" y="521.6" font-family='"Liberation Sans", sans-serif' font-size="7.0" font-weight="normal" text-anchor="middle" fill="#2a2a2a" stroke="#fff" stroke-width="1.6" paint-order="stroke">O</text><text x="340.9" y="472.3" font-family='"Liberation Sans", sans-serif' font-size="7.0" font-weight="normal" text-anchor="middle" fill="#2a2a2a" stroke="#fff" stroke-width="1.6" paint-order="stroke">O</text><text x="389.8" y="521.3" font-family='"Liberation Sans", sans-serif' font-size="7.0" font-weight="normal" text-anchor="middle" fill="#2a2a2a" stroke="#fff" stroke-width="1.6" paint-order="stroke">O</text><text x="438.9" y="472.6" font-family='"Liberation Sans", sans-serif' font-size="7.0" font-weight="normal" text-anchor="middle" fill="#2a2a2a" stroke="#fff" stroke-width="1.6" paint-order="stroke">O</text><text x="488.7" y="521.3" font-family='"Liberation Sans", sans-serif' font-size="7.0" font-weight="normal" text-anchor="middle" fill="#2a2a2a" stroke="#fff" stroke-width="1.6" paint-order="stroke">O</text><text x="537.8" y="472.6" font-family='"Liberation Sans", sans-serif' font-size="7.0" font-weight="normal" text-anchor="middle" fill="#2a2a2a" stroke="#fff" stroke-width="1.6" paint-order="stroke">O</text><text x="555.8" y="501.9" font-family='"Liberation Sans", sans-serif' font-size="6.6" font-weight="normal" text-anchor="middle" fill="#2a2a2a" stroke="#fff" stroke-width="1.6" paint-order="stroke">OH</text><text x="209.0" y="491.8" font-family='"Liberation Sans", sans-serif' font-size="6.2" font-weight="normal" text-anchor="middle" fill="#2a2a2a" stroke="#fff" stroke-width="1.6" paint-order="stroke">N</text><text x="209.0" y="486.0" font-family='"Liberation Sans", sans-serif' font-size="5.9" font-weight="normal" text-anchor="middle" fill="#2a2a2a" stroke="#fff" stroke-width="1.6" paint-order="stroke">H</text><text x="259.4" y="501.0" font-family='"Liberation Sans", sans-serif' font-size="6.2" font-weight="normal" text-anchor="middle" fill="#2a2a2a" stroke="#fff" stroke-width="1.6" paint-order="stroke">N</text><text x="259.4" y="506.8" font-family='"Liberation Sans", sans-serif' font-size="5.9" font-weight="normal" text-anchor="middle" fill="#2a2a2a" stroke="#fff" stroke-width="1.6" paint-order="stroke">H</text><text x="308.1" y="491.6" font-family='"Liberation Sans", sans-serif' font-size="6.2" font-weight="normal" text-anchor="middle" fill="#2a2a2a" stroke="#fff" stroke-width="1.6" paint-order="stroke">N</text><text x="308.1" y="485.8" font-family='"Liberation Sans", sans-serif' font-size="5.9" font-weight="normal" text-anchor="middle" fill="#2a2a2a" stroke="#fff" stroke-width="1.6" paint-order="stroke">H</text><text x="357.8" y="501.5" font-family='"Liberation Sans", sans-serif' font-size="6.2" font-weight="normal" text-anchor="middle" fill="#2a2a2a" stroke="#fff" stroke-width="1.6" paint-order="stroke">N</text><text x="357.8" y="507.3" font-family='"Liberation Sans", sans-serif' font-size="5.9" font-weight="normal" text-anchor="middle" fill="#2a2a2a" stroke="#fff" stroke-width="1.6" paint-order="stroke">H</text><text x="407.9" y="491.6" font-family='"Liberation Sans", sans-serif' font-size="6.2" font-weight="normal" text-anchor="middle" fill="#2a2a2a" stroke="#fff" stroke-width="1.6" paint-order="stroke">N</text><text x="407.9" y="485.8" font-family='"Liberation Sans", sans-serif' font-size="5.9" font-weight="normal" text-anchor="middle" fill="#2a2a2a" stroke="#fff" stroke-width="1.6" paint-order="stroke">H</text><text x="456.9" y="501.4" font-family='"Liberation Sans", sans-serif' font-size="6.2" font-weight="normal" text-anchor="middle" fill="#2a2a2a" stroke="#fff" stroke-width="1.6" paint-order="stroke">N</text><text x="456.9" y="507.2" font-family='"Liberation Sans", sans-serif' font-size="5.9" font-weight="normal" text-anchor="middle" fill="#2a2a2a" stroke="#fff" stroke-width="1.6" paint-order="stroke">H</text><text x="507.3" y="492.1" font-family='"Liberation Sans", sans-serif' font-size="6.2" font-weight="normal" text-anchor="middle" fill="#2a2a2a" stroke="#fff" stroke-width="1.6" paint-order="stroke">N</text><text x="507.3" y="486.3" font-family='"Liberation Sans", sans-serif' font-size="5.9" font-weight="normal" text-anchor="middle" fill="#2a2a2a" stroke="#fff" stroke-width="1.6" paint-order="stroke">H</text><text x="194.3" y="562.4" font-family='"Liberation Sans", sans-serif' font-size="7.0" font-weight="normal" text-anchor="middle" fill="#2a2a2a" stroke="#fff" stroke-width="1.6" paint-order="stroke">O</text><text x="227.6" y="562.2" font-family='"Liberation Sans", sans-serif' font-size="6.6" font-weight="normal" text-anchor="middle" fill="#2a2a2a" stroke="#fff" stroke-width="1.6" paint-order="stroke">OH</text><text x="438.9" y="552.2" font-family='"Liberation Sans", sans-serif' font-size="7.0" font-weight="normal" text-anchor="middle" fill="#2a2a2a" stroke="#fff" stroke-width="1.6" paint-order="stroke">O</text><text x="456.6" y="522.8" font-family='"Liberation Sans", sans-serif' font-size="6.6" font-weight="normal" text-anchor="middle" fill="#2a2a2a" stroke="#fff" stroke-width="1.6" paint-order="stroke">OH</text>
<text x="148.4" y="506.0" font-family='"Liberation Serif", serif' font-weight="bold" font-size="9" fill="#2a2a2a">(</text>
<text x="153.0" y="506.0" font-family='"Liberation Serif", serif' font-weight="bold" font-size="9" fill="#2a2a2a">)</text>
<path d="M151.6 502.8H153.4" stroke="#3a3a3a" stroke-width="0.9"/>
<text x="157.9" y="508.4" font-family='"Liberation Sans", sans-serif' font-weight="bold" font-size="6.8" fill="#2a2a2a">n</text>
<text x="222.9" y="586.2" font-family='"Liberation Serif", serif' font-size="9.6" fill="#2a2a2a" text-anchor="middle">Glu</text>
<text x="286.6" y="586.2" font-family='"Liberation Serif", serif' font-size="9.6" fill="#2a2a2a" text-anchor="middle">Leu</text>
<text x="340.8" y="586.2" font-family='"Liberation Serif", serif' font-size="9.6" fill="#2a2a2a" text-anchor="middle">D-Leu</text>
<text x="389.8" y="586.2" font-family='"Liberation Serif", serif' font-size="9.6" fill="#2a2a2a" text-anchor="middle">Val</text>
<text x="438.1" y="586.2" font-family='"Liberation Serif", serif' font-size="9.6" fill="#2a2a2a" text-anchor="middle">Asp</text>
<text x="487.4" y="586.2" font-family='"Liberation Serif", serif' font-size="9.6" fill="#2a2a2a" text-anchor="middle">D-Leu</text>
<text x="537.3" y="586.2" font-family='"Liberation Serif", serif' font-size="9.6" fill="#2a2a2a" text-anchor="middle">Leu</text>
</g>
<text x="355.5" y="618.8" font-family='"Liberation Sans", sans-serif' font-weight="bold" font-size="13.6" fill="#111">c</text>
</svg>
</body></html>
